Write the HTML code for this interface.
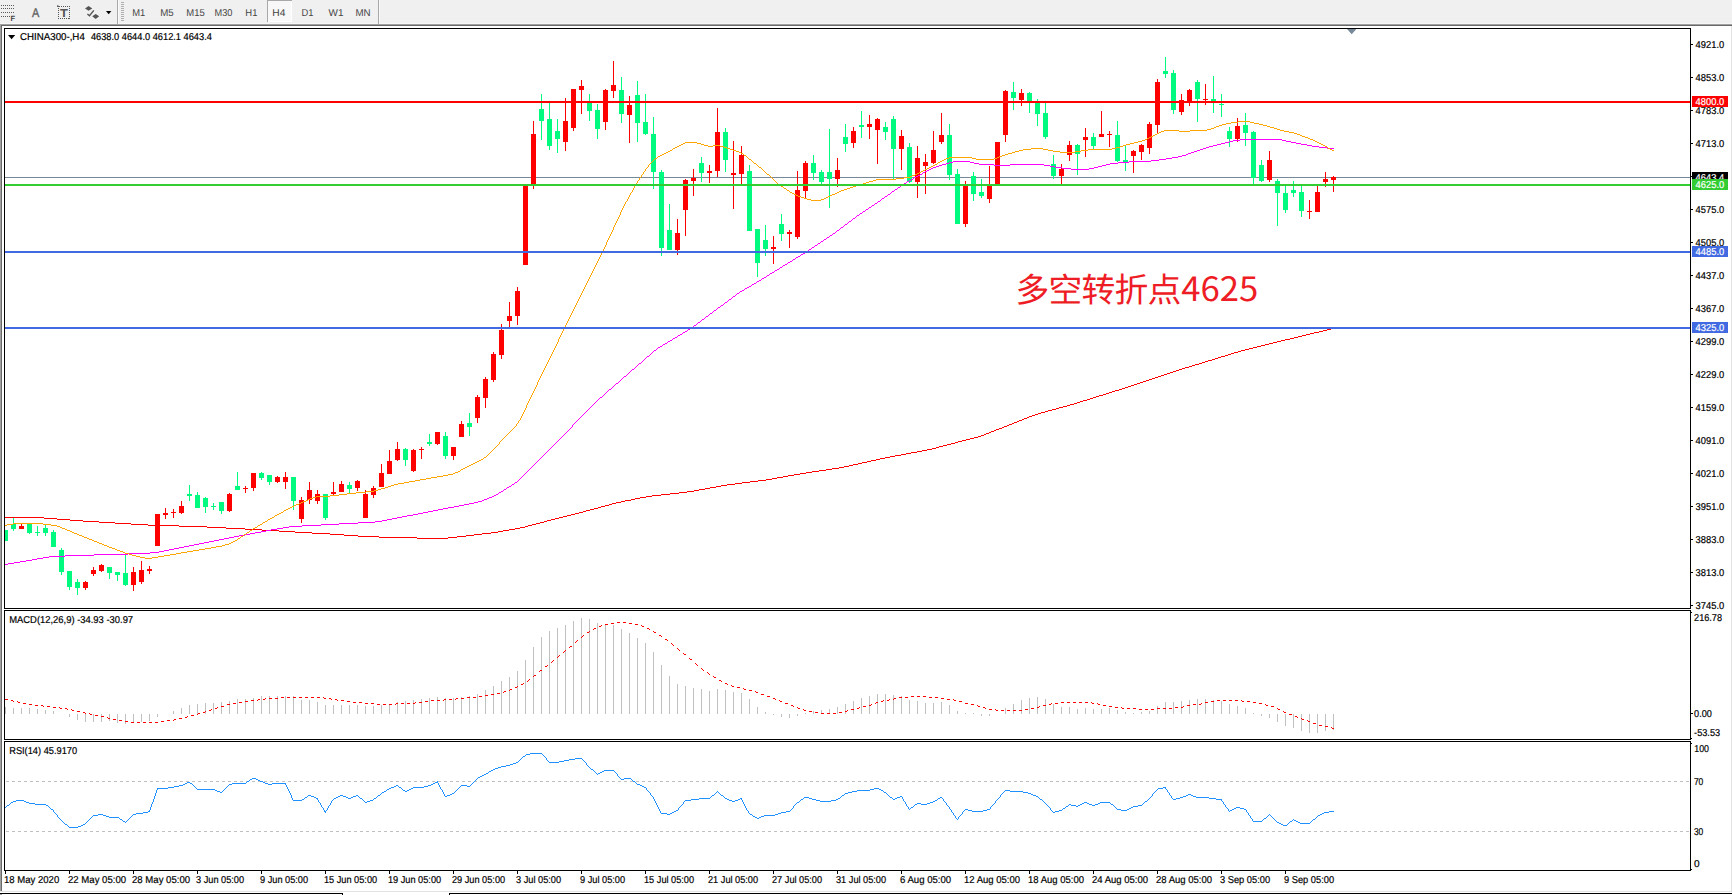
<!DOCTYPE html>
<html lang="zh"><head><meta charset="utf-8"><title>CHINA300-,H4</title>
<style>
html,body{margin:0;padding:0;background:#fff;overflow:hidden}
body{width:1732px;height:895px;position:relative;font-family:"Liberation Sans",sans-serif}
svg{position:absolute;left:0;top:0;display:block}
text{text-rendering:geometricPrecision}
.t{font-family:"Liberation Sans",sans-serif;font-size:10px;fill:#000;stroke:#000;stroke-width:.2px}
.tb{font-family:"Liberation Sans",sans-serif;font-size:10px;fill:#444}
.w{fill:#fff;stroke:#fff}
.note{font-family:"Liberation Sans","Noto Sans CJK SC",sans-serif;font-size:33px;fill:#ee1c25}
.num{font-family:"Noto Sans CJK SC",sans-serif}
</style></head><body>
<svg width="1732" height="895" viewBox="0 0 1732 895">
<g shape-rendering="crispEdges">
<rect x="0" y="0" width="1732" height="895" fill="#fff"/>
<rect x="0" y="0" width="1732" height="23" fill="#f0f0f0"/>
<rect x="0" y="23" width="1732" height="1" fill="#f6f6f6"/>
<rect x="0" y="24" width="1732" height="1" fill="#a0a0a0"/>
<rect x="1" y="25" width="1732" height="1" fill="#696969"/>
<rect x="0" y="24" width="1" height="867" fill="#a0a0a0"/>
<rect x="1" y="25" width="1" height="866" fill="#696969"/>
<rect x="1731" y="26" width="1" height="865" fill="#e3e3e3"/>
<rect x="0" y="891" width="1732" height="1" fill="#e3e3e3"/>
<rect x="0" y="892" width="1732" height="1" fill="#ffffff"/>
<rect x="0" y="893" width="343" height="1" fill="#000"/>
<rect x="342" y="893" width="1" height="2" fill="#000"/>
<rect x="449" y="893" width="1283" height="1" fill="#000"/>
<rect x="449" y="893" width="1" height="2" fill="#000"/>
<rect x="0" y="894" width="2" height="1" fill="#a0a0a0"/>
</g>
<g id="toolbar">
<g shape-rendering="crispEdges" fill="#5a5a5a">
<rect x="1" y="5" width="1" height="1"/>
<rect x="3" y="5" width="1" height="1"/>
<rect x="5" y="5" width="1" height="1"/>
<rect x="7" y="5" width="1" height="1"/>
<rect x="9" y="5" width="1" height="1"/>
<rect x="11" y="5" width="1" height="1"/>
<rect x="13" y="5" width="1" height="1"/>
<rect x="1" y="8" width="1" height="1"/>
<rect x="3" y="8" width="1" height="1"/>
<rect x="5" y="8" width="1" height="1"/>
<rect x="7" y="8" width="1" height="1"/>
<rect x="9" y="8" width="1" height="1"/>
<rect x="11" y="8" width="1" height="1"/>
<rect x="13" y="8" width="1" height="1"/>
<rect x="1" y="12" width="1" height="1"/>
<rect x="3" y="12" width="1" height="1"/>
<rect x="5" y="12" width="1" height="1"/>
<rect x="7" y="12" width="1" height="1"/>
<rect x="9" y="12" width="1" height="1"/>
<rect x="11" y="12" width="1" height="1"/>
<rect x="13" y="12" width="1" height="1"/>
<rect x="1" y="16" width="1" height="1"/>
<rect x="3" y="16" width="1" height="1"/>
<rect x="5" y="16" width="1" height="1"/>
<rect x="7" y="16" width="1" height="1"/>
<rect x="9" y="16" width="1" height="1"/>
</g>
<text x="10.5" y="21" style="font:bold 7.5px 'Liberation Sans',sans-serif" fill="#444">F</text>
<text x="32" y="17" style="font:12.6px 'Liberation Sans',sans-serif" fill="#666" stroke="#666" stroke-width=".4" textLength="7.3" lengthAdjust="spacingAndGlyphs">A</text>
<rect x="58.5" y="6.5" width="11" height="12" fill="none" stroke="#555" stroke-width="1" stroke-dasharray="1 1" shape-rendering="crispEdges"/>
<text x="60.1" y="17" style="font:bold 11.5px 'Liberation Sans',sans-serif" fill="#555" textLength="7.9" lengthAdjust="spacingAndGlyphs">T</text>
<path d="M57 5.2h1.4v.9h1.2v.9h-2.6z" fill="#666"/>
<path d="M88.6 5.9 L92.3 8.6 L88.6 10.8 L85 8.6 Z M95.7 14 L99.2 16.3 L95.7 19.1 L92.2 16.3 Z" fill="#555"/>
<path d="M87.4 14 L89.5 15.7 L93.8 10.4" fill="none" stroke="#555" stroke-width="1.4"/>
<path d="M106 11 L111.4 11 L108.7 14.2 Z" fill="#000"/>
<g shape-rendering="crispEdges">
<rect x="117" y="0" width="1" height="24" fill="#a8a8a8"/>
<rect x="118" y="0" width="1" height="24" fill="#fafafa"/>
<rect x="121" y="2" width="3" height="1" fill="#b0b0b0"/>
<rect x="121" y="4" width="3" height="1" fill="#b0b0b0"/>
<rect x="121" y="6" width="3" height="1" fill="#b0b0b0"/>
<rect x="121" y="8" width="3" height="1" fill="#b0b0b0"/>
<rect x="121" y="10" width="3" height="1" fill="#b0b0b0"/>
<rect x="121" y="12" width="3" height="1" fill="#b0b0b0"/>
<rect x="121" y="14" width="3" height="1" fill="#b0b0b0"/>
<rect x="121" y="16" width="3" height="1" fill="#b0b0b0"/>
<rect x="121" y="18" width="3" height="1" fill="#b0b0b0"/>
<rect x="121" y="20" width="3" height="1" fill="#b0b0b0"/>
<rect x="267" y="0" width="25" height="22" fill="#f8f8f8"/>
<rect x="267" y="0" width="1" height="22" fill="#a8a8a8"/>
<rect x="267" y="0" width="25" height="1" fill="#a8a8a8"/>
<rect x="291" y="1" width="1" height="21" fill="#ffffff"/>
<rect x="268" y="21" width="24" height="1" fill="#ffffff"/>
<rect x="378" y="0" width="1" height="24" fill="#a8a8a8"/>
<rect x="379" y="0" width="1" height="24" fill="#fafafa"/>
</g>
<text class="tb" transform="translate(132.3 16) scale(1 1)" textLength="13.0" lengthAdjust="spacingAndGlyphs">M1</text>
<text class="tb" transform="translate(160.2 16) scale(1 1)" textLength="13.5" lengthAdjust="spacingAndGlyphs">M5</text>
<text class="tb" transform="translate(186.3 16) scale(1 1)" textLength="18.4" lengthAdjust="spacingAndGlyphs">M15</text>
<text class="tb" transform="translate(214.5 16) scale(1 1)" textLength="17.9" lengthAdjust="spacingAndGlyphs">M30</text>
<text class="tb" transform="translate(245.3 16) scale(1 1)" textLength="12.1" lengthAdjust="spacingAndGlyphs">H1</text>
<text class="tb" transform="translate(272.3 16) scale(1 1)" textLength="13.1" lengthAdjust="spacingAndGlyphs">H4</text>
<text class="tb" transform="translate(301.5 16) scale(1 1)" textLength="12.0" lengthAdjust="spacingAndGlyphs">D1</text>
<text class="tb" transform="translate(328.6 16) scale(1 1)" textLength="14.9" lengthAdjust="spacingAndGlyphs">W1</text>
<text class="tb" transform="translate(355.5 16) scale(1 1)" textLength="15.1" lengthAdjust="spacingAndGlyphs">MN</text>
</g>
<g shape-rendering="crispEdges" fill="#000">
<rect x="4" y="28" width="1687" height="1"/>
<rect x="4" y="608" width="1687" height="1"/>
<rect x="4" y="28" width="1" height="581"/>
<rect x="1690" y="28" width="1" height="581"/>
<rect x="4" y="610" width="1687" height="1"/>
<rect x="4" y="739" width="1687" height="1"/>
<rect x="4" y="610" width="1" height="130"/>
<rect x="1690" y="610" width="1" height="130"/>
<rect x="4" y="741" width="1687" height="1"/>
<rect x="4" y="870" width="1687" height="1"/>
<rect x="4" y="741" width="1" height="130"/>
<rect x="1690" y="741" width="1" height="130"/>
<rect x="1691" y="612" width="1" height="1"/>
<rect x="1691" y="738" width="1" height="1"/>
<rect x="1691" y="743" width="1" height="1"/>
</g>
<rect x="5" y="177" width="1685" height="1" fill="#778899" shape-rendering="crispEdges"/>
<g shape-rendering="crispEdges" id="candles">
<rect x="5" y="530" width="1" height="11" fill="#00fa80"/>
<rect x="5" y="530" width="3" height="11" fill="#00fa80"/>
<rect x="13" y="518" width="1" height="13" fill="#00fa80"/>
<rect x="11" y="524" width="5" height="5" fill="#00fa80"/>
<rect x="21" y="524" width="1" height="5" fill="#ff0000"/>
<rect x="19" y="526" width="5" height="3" fill="#ff0000"/>
<rect x="29" y="524" width="1" height="10" fill="#00fa80"/>
<rect x="27" y="524" width="5" height="9" fill="#00fa80"/>
<rect x="37" y="526" width="1" height="10" fill="#00fa80"/>
<rect x="35" y="532" width="5" height="1" fill="#00fa80"/>
<rect x="45" y="524" width="1" height="12" fill="#00fa80"/>
<rect x="43" y="528" width="5" height="5" fill="#00fa80"/>
<rect x="53" y="530" width="1" height="17" fill="#00fa80"/>
<rect x="51" y="532" width="5" height="15" fill="#00fa80"/>
<rect x="61" y="548" width="1" height="27" fill="#00fa80"/>
<rect x="59" y="550" width="5" height="22" fill="#00fa80"/>
<rect x="69" y="571" width="1" height="19" fill="#00fa80"/>
<rect x="67" y="571" width="5" height="16" fill="#00fa80"/>
<rect x="77" y="579" width="1" height="16" fill="#00fa80"/>
<rect x="75" y="582" width="5" height="6" fill="#00fa80"/>
<rect x="85" y="581" width="1" height="9" fill="#ff0000"/>
<rect x="83" y="582" width="5" height="6" fill="#ff0000"/>
<rect x="93" y="567" width="1" height="9" fill="#ff0000"/>
<rect x="91" y="570" width="5" height="4" fill="#ff0000"/>
<rect x="101" y="564" width="1" height="8" fill="#ff0000"/>
<rect x="99" y="565" width="5" height="6" fill="#ff0000"/>
<rect x="109" y="567" width="1" height="12" fill="#00fa80"/>
<rect x="107" y="567" width="5" height="6" fill="#00fa80"/>
<rect x="117" y="572" width="1" height="9" fill="#00fa80"/>
<rect x="115" y="572" width="5" height="3" fill="#00fa80"/>
<rect x="125" y="555" width="1" height="31" fill="#00fa80"/>
<rect x="123" y="573" width="5" height="12" fill="#00fa80"/>
<rect x="133" y="567" width="1" height="24" fill="#ff0000"/>
<rect x="131" y="572" width="5" height="13" fill="#ff0000"/>
<rect x="141" y="561" width="1" height="23" fill="#ff0000"/>
<rect x="139" y="570" width="5" height="12" fill="#ff0000"/>
<rect x="149" y="566" width="1" height="8" fill="#ff0000"/>
<rect x="147" y="569" width="5" height="2" fill="#ff0000"/>
<rect x="157" y="514" width="1" height="32" fill="#ff0000"/>
<rect x="155" y="514" width="5" height="32" fill="#ff0000"/>
<rect x="165" y="508" width="1" height="11" fill="#ff0000"/>
<rect x="163" y="513" width="5" height="2" fill="#ff0000"/>
<rect x="173" y="509" width="1" height="9" fill="#ff0000"/>
<rect x="171" y="512" width="5" height="1" fill="#ff0000"/>
<rect x="181" y="501" width="1" height="13" fill="#ff0000"/>
<rect x="179" y="506" width="5" height="7" fill="#ff0000"/>
<rect x="189" y="485" width="1" height="16" fill="#00fa80"/>
<rect x="187" y="494" width="5" height="2" fill="#00fa80"/>
<rect x="197" y="492" width="1" height="16" fill="#00fa80"/>
<rect x="195" y="495" width="5" height="13" fill="#00fa80"/>
<rect x="205" y="497" width="1" height="16" fill="#00fa80"/>
<rect x="203" y="498" width="5" height="9" fill="#00fa80"/>
<rect x="213" y="503" width="1" height="7" fill="#00fa80"/>
<rect x="211" y="506" width="5" height="1" fill="#00fa80"/>
<rect x="221" y="502" width="1" height="12" fill="#00fa80"/>
<rect x="219" y="502" width="5" height="9" fill="#00fa80"/>
<rect x="229" y="493" width="1" height="19" fill="#ff0000"/>
<rect x="227" y="494" width="5" height="17" fill="#ff0000"/>
<rect x="237" y="472" width="1" height="18" fill="#00fa80"/>
<rect x="235" y="486" width="5" height="4" fill="#00fa80"/>
<rect x="245" y="486" width="1" height="7" fill="#ff0000"/>
<rect x="243" y="488" width="5" height="1" fill="#ff0000"/>
<rect x="253" y="473" width="1" height="18" fill="#ff0000"/>
<rect x="251" y="473" width="5" height="15" fill="#ff0000"/>
<rect x="261" y="472" width="1" height="8" fill="#00fa80"/>
<rect x="259" y="473" width="5" height="5" fill="#00fa80"/>
<rect x="269" y="475" width="1" height="10" fill="#00fa80"/>
<rect x="267" y="475" width="5" height="7" fill="#00fa80"/>
<rect x="277" y="476" width="1" height="7" fill="#ff0000"/>
<rect x="275" y="477" width="5" height="5" fill="#ff0000"/>
<rect x="285" y="472" width="1" height="17" fill="#ff0000"/>
<rect x="283" y="477" width="5" height="5" fill="#ff0000"/>
<rect x="293" y="477" width="1" height="33" fill="#00fa80"/>
<rect x="291" y="477" width="5" height="24" fill="#00fa80"/>
<rect x="301" y="497" width="1" height="26" fill="#ff0000"/>
<rect x="299" y="500" width="5" height="19" fill="#ff0000"/>
<rect x="309" y="482" width="1" height="22" fill="#ff0000"/>
<rect x="307" y="490" width="5" height="10" fill="#ff0000"/>
<rect x="317" y="490" width="1" height="14" fill="#ff0000"/>
<rect x="315" y="494" width="5" height="7" fill="#ff0000"/>
<rect x="325" y="494" width="1" height="26" fill="#00fa80"/>
<rect x="323" y="494" width="5" height="24" fill="#00fa80"/>
<rect x="333" y="482" width="1" height="14" fill="#ff0000"/>
<rect x="331" y="492" width="5" height="2" fill="#ff0000"/>
<rect x="341" y="481" width="1" height="11" fill="#ff0000"/>
<rect x="339" y="484" width="5" height="8" fill="#ff0000"/>
<rect x="349" y="482" width="1" height="11" fill="#00fa80"/>
<rect x="347" y="485" width="5" height="4" fill="#00fa80"/>
<rect x="357" y="480" width="1" height="11" fill="#ff0000"/>
<rect x="355" y="481" width="5" height="7" fill="#ff0000"/>
<rect x="365" y="490" width="1" height="28" fill="#ff0000"/>
<rect x="363" y="494" width="5" height="24" fill="#ff0000"/>
<rect x="373" y="486" width="1" height="12" fill="#ff0000"/>
<rect x="371" y="488" width="5" height="7" fill="#ff0000"/>
<rect x="381" y="464" width="1" height="23" fill="#ff0000"/>
<rect x="379" y="473" width="5" height="14" fill="#ff0000"/>
<rect x="389" y="450" width="1" height="24" fill="#ff0000"/>
<rect x="387" y="461" width="5" height="13" fill="#ff0000"/>
<rect x="397" y="442" width="1" height="19" fill="#ff0000"/>
<rect x="395" y="449" width="5" height="11" fill="#ff0000"/>
<rect x="405" y="448" width="1" height="18" fill="#00fa80"/>
<rect x="403" y="449" width="5" height="11" fill="#00fa80"/>
<rect x="413" y="449" width="1" height="23" fill="#ff0000"/>
<rect x="411" y="450" width="5" height="21" fill="#ff0000"/>
<rect x="421" y="447" width="1" height="12" fill="#ff0000"/>
<rect x="419" y="449" width="5" height="1" fill="#ff0000"/>
<rect x="429" y="434" width="1" height="12" fill="#00fa80"/>
<rect x="427" y="442" width="5" height="2" fill="#00fa80"/>
<rect x="437" y="432" width="1" height="13" fill="#ff0000"/>
<rect x="435" y="432" width="5" height="12" fill="#ff0000"/>
<rect x="445" y="432" width="1" height="27" fill="#00fa80"/>
<rect x="443" y="436" width="5" height="20" fill="#00fa80"/>
<rect x="453" y="447" width="1" height="13" fill="#ff0000"/>
<rect x="451" y="447" width="5" height="9" fill="#ff0000"/>
<rect x="461" y="421" width="1" height="16" fill="#ff0000"/>
<rect x="459" y="424" width="5" height="13" fill="#ff0000"/>
<rect x="469" y="413" width="1" height="23" fill="#00fa80"/>
<rect x="467" y="423" width="5" height="4" fill="#00fa80"/>
<rect x="477" y="395" width="1" height="28" fill="#ff0000"/>
<rect x="475" y="397" width="5" height="21" fill="#ff0000"/>
<rect x="485" y="377" width="1" height="31" fill="#ff0000"/>
<rect x="483" y="379" width="5" height="19" fill="#ff0000"/>
<rect x="493" y="352" width="1" height="30" fill="#ff0000"/>
<rect x="491" y="354" width="5" height="26" fill="#ff0000"/>
<rect x="501" y="324" width="1" height="35" fill="#ff0000"/>
<rect x="499" y="330" width="5" height="25" fill="#ff0000"/>
<rect x="509" y="302" width="1" height="25" fill="#ff0000"/>
<rect x="507" y="316" width="5" height="5" fill="#ff0000"/>
<rect x="517" y="287" width="1" height="38" fill="#ff0000"/>
<rect x="515" y="291" width="5" height="25" fill="#ff0000"/>
<rect x="525" y="186" width="1" height="79" fill="#ff0000"/>
<rect x="523" y="186" width="5" height="79" fill="#ff0000"/>
<rect x="533" y="121" width="1" height="68" fill="#ff0000"/>
<rect x="531" y="134" width="5" height="50" fill="#ff0000"/>
<rect x="541" y="94" width="1" height="46" fill="#00fa80"/>
<rect x="539" y="109" width="5" height="12" fill="#00fa80"/>
<rect x="549" y="103" width="1" height="47" fill="#00fa80"/>
<rect x="547" y="119" width="5" height="27" fill="#00fa80"/>
<rect x="557" y="119" width="1" height="34" fill="#00fa80"/>
<rect x="555" y="131" width="5" height="8" fill="#00fa80"/>
<rect x="565" y="98" width="1" height="53" fill="#ff0000"/>
<rect x="563" y="121" width="5" height="21" fill="#ff0000"/>
<rect x="573" y="89" width="1" height="42" fill="#ff0000"/>
<rect x="571" y="89" width="5" height="39" fill="#ff0000"/>
<rect x="581" y="80" width="1" height="34" fill="#ff0000"/>
<rect x="579" y="86" width="5" height="4" fill="#ff0000"/>
<rect x="589" y="94" width="1" height="27" fill="#00fa80"/>
<rect x="587" y="103" width="5" height="8" fill="#00fa80"/>
<rect x="597" y="104" width="1" height="35" fill="#00fa80"/>
<rect x="595" y="110" width="5" height="19" fill="#00fa80"/>
<rect x="605" y="89" width="1" height="41" fill="#ff0000"/>
<rect x="603" y="90" width="5" height="32" fill="#ff0000"/>
<rect x="613" y="61" width="1" height="37" fill="#ff0000"/>
<rect x="611" y="85" width="5" height="6" fill="#ff0000"/>
<rect x="621" y="77" width="1" height="46" fill="#00fa80"/>
<rect x="619" y="90" width="5" height="24" fill="#00fa80"/>
<rect x="629" y="96" width="1" height="47" fill="#ff0000"/>
<rect x="627" y="105" width="5" height="10" fill="#ff0000"/>
<rect x="637" y="81" width="1" height="61" fill="#00fa80"/>
<rect x="635" y="95" width="5" height="28" fill="#00fa80"/>
<rect x="645" y="94" width="1" height="41" fill="#00fa80"/>
<rect x="643" y="122" width="5" height="12" fill="#00fa80"/>
<rect x="653" y="117" width="1" height="72" fill="#00fa80"/>
<rect x="651" y="134" width="5" height="38" fill="#00fa80"/>
<rect x="661" y="170" width="1" height="86" fill="#00fa80"/>
<rect x="659" y="172" width="5" height="76" fill="#00fa80"/>
<rect x="669" y="204" width="1" height="46" fill="#00fa80"/>
<rect x="667" y="230" width="5" height="20" fill="#00fa80"/>
<rect x="677" y="219" width="1" height="36" fill="#ff0000"/>
<rect x="675" y="233" width="5" height="17" fill="#ff0000"/>
<rect x="685" y="179" width="1" height="57" fill="#ff0000"/>
<rect x="683" y="180" width="5" height="30" fill="#ff0000"/>
<rect x="693" y="169" width="1" height="27" fill="#ff0000"/>
<rect x="691" y="178" width="5" height="3" fill="#ff0000"/>
<rect x="701" y="157" width="1" height="25" fill="#00fa80"/>
<rect x="699" y="163" width="5" height="10" fill="#00fa80"/>
<rect x="709" y="165" width="1" height="18" fill="#ff0000"/>
<rect x="707" y="171" width="5" height="2" fill="#ff0000"/>
<rect x="717" y="108" width="1" height="69" fill="#ff0000"/>
<rect x="715" y="132" width="5" height="39" fill="#ff0000"/>
<rect x="725" y="128" width="1" height="44" fill="#00fa80"/>
<rect x="723" y="132" width="5" height="28" fill="#00fa80"/>
<rect x="733" y="141" width="1" height="68" fill="#ff0000"/>
<rect x="731" y="173" width="5" height="2" fill="#ff0000"/>
<rect x="741" y="146" width="1" height="38" fill="#ff0000"/>
<rect x="739" y="155" width="5" height="19" fill="#ff0000"/>
<rect x="749" y="165" width="1" height="66" fill="#00fa80"/>
<rect x="747" y="171" width="5" height="60" fill="#00fa80"/>
<rect x="757" y="229" width="1" height="48" fill="#00fa80"/>
<rect x="755" y="229" width="5" height="34" fill="#00fa80"/>
<rect x="765" y="225" width="1" height="31" fill="#00fa80"/>
<rect x="763" y="240" width="5" height="9" fill="#00fa80"/>
<rect x="773" y="236" width="1" height="28" fill="#ff0000"/>
<rect x="771" y="247" width="5" height="2" fill="#ff0000"/>
<rect x="781" y="214" width="1" height="27" fill="#00fa80"/>
<rect x="779" y="224" width="5" height="10" fill="#00fa80"/>
<rect x="789" y="230" width="1" height="18" fill="#ff0000"/>
<rect x="787" y="232" width="5" height="2" fill="#ff0000"/>
<rect x="797" y="171" width="1" height="68" fill="#ff0000"/>
<rect x="795" y="190" width="5" height="47" fill="#ff0000"/>
<rect x="805" y="161" width="1" height="37" fill="#ff0000"/>
<rect x="803" y="163" width="5" height="28" fill="#ff0000"/>
<rect x="813" y="155" width="1" height="25" fill="#00fa80"/>
<rect x="811" y="163" width="5" height="10" fill="#00fa80"/>
<rect x="821" y="170" width="1" height="14" fill="#00fa80"/>
<rect x="819" y="172" width="5" height="10" fill="#00fa80"/>
<rect x="829" y="129" width="1" height="79" fill="#00fa80"/>
<rect x="827" y="172" width="5" height="7" fill="#00fa80"/>
<rect x="837" y="158" width="1" height="29" fill="#ff0000"/>
<rect x="835" y="170" width="5" height="9" fill="#ff0000"/>
<rect x="845" y="124" width="1" height="28" fill="#00fa80"/>
<rect x="843" y="137" width="5" height="7" fill="#00fa80"/>
<rect x="853" y="127" width="1" height="21" fill="#ff0000"/>
<rect x="851" y="131" width="5" height="12" fill="#ff0000"/>
<rect x="861" y="111" width="1" height="27" fill="#00fa80"/>
<rect x="859" y="125" width="5" height="2" fill="#00fa80"/>
<rect x="869" y="115" width="1" height="24" fill="#ff0000"/>
<rect x="867" y="124" width="5" height="3" fill="#ff0000"/>
<rect x="877" y="118" width="1" height="46" fill="#ff0000"/>
<rect x="875" y="119" width="5" height="11" fill="#ff0000"/>
<rect x="885" y="122" width="1" height="18" fill="#00fa80"/>
<rect x="883" y="127" width="5" height="5" fill="#00fa80"/>
<rect x="893" y="116" width="1" height="63" fill="#00fa80"/>
<rect x="891" y="119" width="5" height="30" fill="#00fa80"/>
<rect x="901" y="130" width="1" height="40" fill="#ff0000"/>
<rect x="899" y="136" width="5" height="13" fill="#ff0000"/>
<rect x="909" y="143" width="1" height="40" fill="#00fa80"/>
<rect x="907" y="147" width="5" height="35" fill="#00fa80"/>
<rect x="917" y="146" width="1" height="52" fill="#ff0000"/>
<rect x="915" y="158" width="5" height="24" fill="#ff0000"/>
<rect x="925" y="154" width="1" height="40" fill="#ff0000"/>
<rect x="923" y="162" width="5" height="4" fill="#ff0000"/>
<rect x="933" y="131" width="1" height="33" fill="#ff0000"/>
<rect x="931" y="150" width="5" height="13" fill="#ff0000"/>
<rect x="941" y="113" width="1" height="31" fill="#ff0000"/>
<rect x="939" y="135" width="5" height="7" fill="#ff0000"/>
<rect x="949" y="124" width="1" height="56" fill="#00fa80"/>
<rect x="947" y="135" width="5" height="40" fill="#00fa80"/>
<rect x="957" y="169" width="1" height="55" fill="#00fa80"/>
<rect x="955" y="174" width="5" height="50" fill="#00fa80"/>
<rect x="965" y="181" width="1" height="46" fill="#ff0000"/>
<rect x="963" y="186" width="5" height="38" fill="#ff0000"/>
<rect x="973" y="172" width="1" height="29" fill="#00fa80"/>
<rect x="971" y="176" width="5" height="18" fill="#00fa80"/>
<rect x="981" y="179" width="1" height="19" fill="#00fa80"/>
<rect x="979" y="192" width="5" height="4" fill="#00fa80"/>
<rect x="989" y="166" width="1" height="37" fill="#ff0000"/>
<rect x="987" y="186" width="5" height="13" fill="#ff0000"/>
<rect x="997" y="142" width="1" height="42" fill="#ff0000"/>
<rect x="995" y="142" width="5" height="42" fill="#ff0000"/>
<rect x="1005" y="90" width="1" height="52" fill="#ff0000"/>
<rect x="1003" y="91" width="5" height="44" fill="#ff0000"/>
<rect x="1013" y="82" width="1" height="28" fill="#00fa80"/>
<rect x="1011" y="92" width="5" height="6" fill="#00fa80"/>
<rect x="1021" y="89" width="1" height="17" fill="#ff0000"/>
<rect x="1019" y="93" width="5" height="7" fill="#ff0000"/>
<rect x="1029" y="92" width="1" height="21" fill="#00fa80"/>
<rect x="1027" y="93" width="5" height="8" fill="#00fa80"/>
<rect x="1037" y="99" width="1" height="27" fill="#00fa80"/>
<rect x="1035" y="103" width="5" height="11" fill="#00fa80"/>
<rect x="1045" y="103" width="1" height="36" fill="#00fa80"/>
<rect x="1043" y="113" width="5" height="24" fill="#00fa80"/>
<rect x="1053" y="155" width="1" height="24" fill="#00fa80"/>
<rect x="1051" y="164" width="5" height="12" fill="#00fa80"/>
<rect x="1061" y="164" width="1" height="20" fill="#ff0000"/>
<rect x="1059" y="169" width="5" height="7" fill="#ff0000"/>
<rect x="1069" y="141" width="1" height="20" fill="#ff0000"/>
<rect x="1067" y="145" width="5" height="10" fill="#ff0000"/>
<rect x="1077" y="144" width="1" height="31" fill="#00fa80"/>
<rect x="1075" y="145" width="5" height="9" fill="#00fa80"/>
<rect x="1085" y="128" width="1" height="29" fill="#ff0000"/>
<rect x="1083" y="137" width="5" height="3" fill="#ff0000"/>
<rect x="1093" y="133" width="1" height="16" fill="#00fa80"/>
<rect x="1091" y="137" width="5" height="9" fill="#00fa80"/>
<rect x="1101" y="111" width="1" height="26" fill="#ff0000"/>
<rect x="1099" y="134" width="5" height="3" fill="#ff0000"/>
<rect x="1109" y="131" width="1" height="16" fill="#ff0000"/>
<rect x="1107" y="134" width="5" height="1" fill="#ff0000"/>
<rect x="1117" y="121" width="1" height="41" fill="#00fa80"/>
<rect x="1115" y="135" width="5" height="26" fill="#00fa80"/>
<rect x="1125" y="146" width="1" height="25" fill="#00fa80"/>
<rect x="1123" y="160" width="5" height="2" fill="#00fa80"/>
<rect x="1133" y="150" width="1" height="23" fill="#ff0000"/>
<rect x="1131" y="151" width="5" height="5" fill="#ff0000"/>
<rect x="1141" y="144" width="1" height="16" fill="#ff0000"/>
<rect x="1139" y="145" width="5" height="7" fill="#ff0000"/>
<rect x="1149" y="122" width="1" height="32" fill="#ff0000"/>
<rect x="1147" y="124" width="5" height="24" fill="#ff0000"/>
<rect x="1157" y="79" width="1" height="54" fill="#ff0000"/>
<rect x="1155" y="82" width="5" height="43" fill="#ff0000"/>
<rect x="1165" y="57" width="1" height="21" fill="#00fa80"/>
<rect x="1163" y="71" width="5" height="3" fill="#00fa80"/>
<rect x="1173" y="70" width="1" height="44" fill="#00fa80"/>
<rect x="1171" y="73" width="5" height="37" fill="#00fa80"/>
<rect x="1181" y="94" width="1" height="21" fill="#ff0000"/>
<rect x="1179" y="100" width="5" height="12" fill="#ff0000"/>
<rect x="1189" y="89" width="1" height="17" fill="#ff0000"/>
<rect x="1187" y="90" width="5" height="12" fill="#ff0000"/>
<rect x="1197" y="80" width="1" height="42" fill="#00fa80"/>
<rect x="1195" y="82" width="5" height="17" fill="#00fa80"/>
<rect x="1205" y="84" width="1" height="21" fill="#ff0000"/>
<rect x="1203" y="99" width="5" height="1" fill="#ff0000"/>
<rect x="1213" y="76" width="1" height="37" fill="#00fa80"/>
<rect x="1211" y="99" width="5" height="2" fill="#00fa80"/>
<rect x="1221" y="94" width="1" height="23" fill="#00fa80"/>
<rect x="1219" y="104" width="5" height="1" fill="#00fa80"/>
<rect x="1229" y="127" width="1" height="20" fill="#00fa80"/>
<rect x="1227" y="131" width="5" height="8" fill="#00fa80"/>
<rect x="1237" y="118" width="1" height="24" fill="#ff0000"/>
<rect x="1235" y="126" width="5" height="13" fill="#ff0000"/>
<rect x="1245" y="113" width="1" height="33" fill="#00fa80"/>
<rect x="1243" y="125" width="5" height="8" fill="#00fa80"/>
<rect x="1253" y="131" width="1" height="53" fill="#00fa80"/>
<rect x="1251" y="132" width="5" height="46" fill="#00fa80"/>
<rect x="1261" y="160" width="1" height="22" fill="#00fa80"/>
<rect x="1259" y="165" width="5" height="16" fill="#00fa80"/>
<rect x="1269" y="151" width="1" height="31" fill="#ff0000"/>
<rect x="1267" y="160" width="5" height="20" fill="#ff0000"/>
<rect x="1277" y="179" width="1" height="47" fill="#00fa80"/>
<rect x="1275" y="181" width="5" height="12" fill="#00fa80"/>
<rect x="1285" y="186" width="1" height="27" fill="#00fa80"/>
<rect x="1283" y="193" width="5" height="17" fill="#00fa80"/>
<rect x="1293" y="181" width="1" height="16" fill="#00fa80"/>
<rect x="1291" y="190" width="5" height="3" fill="#00fa80"/>
<rect x="1301" y="186" width="1" height="31" fill="#00fa80"/>
<rect x="1299" y="192" width="5" height="19" fill="#00fa80"/>
<rect x="1309" y="200" width="1" height="19" fill="#ff0000"/>
<rect x="1307" y="211" width="5" height="1" fill="#ff0000"/>
<rect x="1317" y="186" width="1" height="26" fill="#ff0000"/>
<rect x="1315" y="192" width="5" height="20" fill="#ff0000"/>
<rect x="1325" y="172" width="1" height="15" fill="#ff0000"/>
<rect x="1323" y="179" width="5" height="3" fill="#ff0000"/>
<rect x="1333" y="176" width="1" height="16" fill="#ff0000"/>
<rect x="1331" y="177" width="5" height="3" fill="#ff0000"/>
</g>
<path d="M5 517h39v1h-39zM44 518h13v1h-13zM57 519h13v1h-13zM70 520h13v1h-13zM83 521h16v1h-16zM99 522h16v1h-16zM115 523h16v1h-16zM131 524h17v1h-17zM148 525h31v1h-31zM179 526h28v1h-28zM207 527h19v1h-19zM226 528h19v1h-19zM245 529h17v1h-17zM262 530h17v1h-17zM279 531h16v1h-16zM295 532h17v1h-17zM312 533h18v1h-18zM330 534h14v1h-14zM344 535h14v1h-14zM358 536h21v1h-21zM379 537h38v1h-38zM417 538h31v1h-31zM448 537h9v1h-9zM457 536h9v1h-9zM466 535h8v1h-8zM474 534h8v1h-8zM482 533h9v1h-9zM491 532h7v1h-7zM498 531h5v1h-5zM503 530h6v1h-6zM509 529h6v1h-6zM515 528h5v1h-5zM520 527h5v1h-5zM525 526h3v1h-3zM528 525h4v1h-4zM532 524h4v1h-4zM536 523h4v1h-4zM540 522h4v1h-4zM544 521h3v1h-3zM547 520h4v1h-4zM551 519h4v1h-4zM555 518h4v1h-4zM559 517h4v1h-4zM563 516h4v1h-4zM567 515h4v1h-4zM571 514h4v1h-4zM575 513h4v1h-4zM579 512h4v1h-4zM583 511h3v1h-3zM586 510h4v1h-4zM590 509h4v1h-4zM594 508h4v1h-4zM598 507h3v1h-3zM601 506h4v1h-4zM605 505h4v1h-4zM609 504h3v1h-3zM612 503h4v1h-4zM616 502h5v1h-5zM621 501h4v1h-4zM625 500h6v1h-6zM631 499h4v1h-4zM635 498h5v1h-5zM640 497h6v1h-6zM646 496h6v1h-6zM652 495h9v1h-9zM661 494h9v1h-9zM670 493h9v1h-9zM679 492h8v1h-8zM687 491h7v1h-7zM694 490h5v1h-5zM699 489h6v1h-6zM705 488h5v1h-5zM710 487h6v1h-6zM716 486h5v1h-5zM721 485h6v1h-6zM727 484h8v1h-8zM735 483h7v1h-7zM742 482h8v1h-8zM750 481h8v1h-8zM758 480h8v1h-8zM766 479h6v1h-6zM772 478h5v1h-5zM777 477h6v1h-6zM783 476h5v1h-5zM788 475h6v1h-6zM794 474h6v1h-6zM800 473h6v1h-6zM806 472h6v1h-6zM812 471h7v1h-7zM819 470h7v1h-7zM826 469h6v1h-6zM832 468h7v1h-7zM839 467h5v1h-5zM844 466h5v1h-5zM849 465h4v1h-4zM853 464h5v1h-5zM858 463h4v1h-4zM862 462h5v1h-5zM867 461h4v1h-4zM871 460h5v1h-5zM876 459h4v1h-4zM880 458h5v1h-5zM885 457h5v1h-5zM890 456h5v1h-5zM895 455h6v1h-6zM901 454h5v1h-5zM906 453h5v1h-5zM911 452h6v1h-6zM917 451h5v1h-5zM922 450h5v1h-5zM927 449h5v1h-5zM932 448h4v1h-4zM936 447h3v1h-3zM939 446h4v1h-4zM943 445h4v1h-4zM947 444h4v1h-4zM951 443h4v1h-4zM955 442h3v1h-3zM958 441h4v1h-4zM962 440h4v1h-4zM966 439h4v1h-4zM970 438h4v1h-4zM974 437h4v1h-4zM978 436h3v1h-3zM981 435h3v1h-3zM984 434h2v1h-2zM986 433h3v1h-3zM989 432h2v1h-2zM991 431h3v1h-3zM994 430h2v1h-2zM996 429h3v1h-3zM999 428h3v1h-3zM1002 427h2v1h-2zM1004 426h3v1h-3zM1007 425h2v1h-2zM1009 424h3v1h-3zM1012 423h2v1h-2zM1014 422h3v1h-3zM1017 421h2v1h-2zM1019 420h3v1h-3zM1022 419h2v1h-2zM1024 418h3v1h-3zM1027 417h2v1h-2zM1029 416h3v1h-3zM1032 415h3v1h-3zM1035 414h3v1h-3zM1038 413h3v1h-3zM1041 412h4v1h-4zM1045 411h3v1h-3zM1048 410h4v1h-4zM1052 409h4v1h-4zM1056 408h3v1h-3zM1059 407h4v1h-4zM1063 406h4v1h-4zM1067 405h3v1h-3zM1070 404h4v1h-4zM1074 403h3v1h-3zM1077 402h3v1h-3zM1080 401h3v1h-3zM1083 400h4v1h-4zM1087 399h3v1h-3zM1090 398h3v1h-3zM1093 397h3v1h-3zM1096 396h3v1h-3zM1099 395h4v1h-4zM1103 394h3v1h-3zM1106 393h3v1h-3zM1109 392h3v1h-3zM1112 391h3v1h-3zM1115 390h4v1h-4zM1119 389h3v1h-3zM1122 388h3v1h-3zM1125 387h3v1h-3zM1128 386h3v1h-3zM1131 385h3v1h-3zM1134 384h3v1h-3zM1137 383h3v1h-3zM1140 382h3v1h-3zM1143 381h3v1h-3zM1146 380h3v1h-3zM1149 379h3v1h-3zM1152 378h3v1h-3zM1155 377h3v1h-3zM1158 376h3v1h-3zM1161 375h3v1h-3zM1164 374h3v1h-3zM1167 373h3v1h-3zM1170 372h3v1h-3zM1173 371h3v1h-3zM1176 370h3v1h-3zM1179 369h3v1h-3zM1182 368h3v1h-3zM1185 367h4v1h-4zM1189 366h3v1h-3zM1192 365h3v1h-3zM1195 364h4v1h-4zM1199 363h3v1h-3zM1202 362h3v1h-3zM1205 361h3v1h-3zM1208 360h4v1h-4zM1212 359h3v1h-3zM1215 358h3v1h-3zM1218 357h3v1h-3zM1221 356h4v1h-4zM1225 355h3v1h-3zM1228 354h3v1h-3zM1231 353h3v1h-3zM1234 352h4v1h-4zM1238 351h3v1h-3zM1241 350h4v1h-4zM1245 349h4v1h-4zM1249 348h4v1h-4zM1253 347h4v1h-4zM1257 346h4v1h-4zM1261 345h4v1h-4zM1265 344h4v1h-4zM1269 343h4v1h-4zM1273 342h4v1h-4zM1277 341h4v1h-4zM1281 340h4v1h-4zM1285 339h5v1h-5zM1290 338h4v1h-4zM1294 337h4v1h-4zM1298 336h4v1h-4zM1302 335h4v1h-4zM1306 334h4v1h-4zM1310 333h4v1h-4zM1314 332h5v1h-5zM1319 331h4v1h-4zM1323 330h4v1h-4zM1327 329h4v1h-4zM1331 328h3v1h-3z" fill="#ff0000" shape-rendering="crispEdges"/>
<path d="M5 564h3v1h-3zM8 563h6v1h-6zM14 562h6v1h-6zM20 561h6v1h-6zM26 560h6v1h-6zM32 559h5v1h-5zM37 558h6v1h-6zM43 557h6v1h-6zM49 556h16v1h-16zM65 555h29v1h-29zM94 554h34v1h-34zM128 553h22v1h-22zM150 552h9v1h-9zM159 551h5v1h-5zM164 550h5v1h-5zM169 549h5v1h-5zM174 548h5v1h-5zM179 547h5v1h-5zM184 546h5v1h-5zM189 545h5v1h-5zM194 544h5v1h-5zM199 543h5v1h-5zM204 542h5v1h-5zM209 541h5v1h-5zM214 540h5v1h-5zM219 539h5v1h-5zM224 538h5v1h-5zM229 537h5v1h-5zM234 536h5v1h-5zM239 535h6v1h-6zM245 534h5v1h-5zM250 533h5v1h-5zM255 532h6v1h-6zM261 531h5v1h-5zM266 530h5v1h-5zM271 529h6v1h-6zM277 528h6v1h-6zM283 527h6v1h-6zM289 526h13v1h-13zM302 525h19v1h-19zM321 524h18v1h-18zM339 523h19v1h-19zM358 522h17v1h-17zM375 521h7v1h-7zM382 520h5v1h-5zM387 519h5v1h-5zM392 518h5v1h-5zM397 517h5v1h-5zM402 516h5v1h-5zM407 515h6v1h-6zM413 514h5v1h-5zM418 513h5v1h-5zM423 512h5v1h-5zM428 511h5v1h-5zM433 510h5v1h-5zM438 509h5v1h-5zM443 508h5v1h-5zM448 507h6v1h-6zM454 506h5v1h-5zM459 505h5v1h-5zM464 504h5v1h-5zM469 503h5v1h-5zM474 502h4v1h-4zM478 501h4v1h-4zM482 500h2v1h-2zM484 499h3v1h-3zM487 498h2v1h-2zM489 497h3v1h-3zM492 496h2v1h-2zM494 495h2v1h-2zM496 494h2v1h-2zM498 493h1v1h-1zM499 492h2v1h-2zM501 491h2v1h-2zM503 490h1v1h-1zM504 489h2v1h-2zM506 488h1v1h-1zM507 487h2v1h-2zM509 486h2v1h-2zM511 485h1v1h-1zM512 484h2v1h-2zM514 483h1v1h-1zM515 482h2v1h-2zM517 481h1v1h-1zM518 480h1v1h-1zM519 479h1v1h-1zM520 478h1v1h-1zM521 477h1v1h-1zM522 476h1v1h-1zM523 475h1v1h-1zM524 474h1v1h-1zM525 473h1v1h-1zM526 472h1v1h-1zM527 471h1v1h-1zM528 470h1v1h-1zM529 469h1v1h-1zM530 468h1v1h-1zM531 467h1v1h-1zM532 466h1v1h-1zM533 465h1v1h-1zM534 464h1v1h-1zM535 463h1v1h-1zM536 462h1v1h-1zM537 461h1v1h-1zM538 460h1v1h-1zM539 459h1v1h-1zM540 458h1v1h-1zM541 457h1v1h-1zM542 456h1v1h-1zM543 455h1v1h-1zM544 454h1v1h-1zM545 453h1v1h-1zM546 452h1v1h-1zM547 451h1v1h-1zM548 450h1v1h-1zM549 449h1v1h-1zM550 448h1v1h-1zM551 447h1v1h-1zM552 446h1v1h-1zM553 445h1v1h-1zM554 444h1v1h-1zM555 443h1v1h-1zM556 442h1v1h-1zM557 441h1v1h-1zM558 440h1v1h-1zM559 439h1v1h-1zM560 438h1v1h-1zM561 437h1v1h-1zM562 436h1v1h-1zM563 435h1v1h-1zM564 434h1v1h-1zM565 433h1v1h-1zM566 432h1v1h-1zM567 431h1v1h-1zM568 430h1v1h-1zM569 429h1v1h-1zM570 428h1v1h-1zM571 427h1v1h-1zM572 425h1v2h-1zM573 424h1v1h-1zM574 423h1v1h-1zM575 422h1v1h-1zM576 421h1v1h-1zM577 420h1v1h-1zM578 419h1v1h-1zM579 418h1v1h-1zM580 417h1v1h-1zM581 416h1v1h-1zM582 415h1v1h-1zM583 414h1v1h-1zM584 413h1v1h-1zM585 412h1v1h-1zM586 411h1v1h-1zM587 410h1v1h-1zM588 409h1v1h-1zM589 408h1v1h-1zM590 407h1v1h-1zM591 406h1v1h-1zM592 405h1v1h-1zM593 404h1v1h-1zM594 403h1v1h-1zM595 402h1v1h-1zM596 401h1v1h-1zM597 400h1v1h-1zM598 399h1v1h-1zM599 398h1v1h-1zM600 397h2v1h-2zM602 396h1v1h-1zM603 395h1v1h-1zM604 394h1v1h-1zM605 393h1v1h-1zM606 392h1v1h-1zM607 391h1v1h-1zM608 390h1v1h-1zM609 389h2v1h-2zM611 388h1v1h-1zM612 387h1v1h-1zM613 386h1v1h-1zM614 385h1v1h-1zM615 384h1v1h-1zM616 383h2v1h-2zM618 382h1v1h-1zM619 381h1v1h-1zM620 380h1v1h-1zM621 379h1v1h-1zM622 378h1v1h-1zM623 377h1v1h-1zM624 376h2v1h-2zM626 375h1v1h-1zM627 374h1v1h-1zM628 373h1v1h-1zM629 372h1v1h-1zM630 371h1v1h-1zM631 370h1v1h-1zM632 369h2v1h-2zM634 368h1v1h-1zM635 367h1v1h-1zM636 366h1v1h-1zM637 365h1v1h-1zM638 364h1v1h-1zM639 363h2v1h-2zM641 362h1v1h-1zM642 361h1v1h-1zM643 360h1v1h-1zM644 359h1v1h-1zM645 358h1v1h-1zM646 357h1v1h-1zM647 356h2v1h-2zM649 355h1v1h-1zM650 354h1v1h-1zM651 353h1v1h-1zM652 352h1v1h-1zM653 351h1v1h-1zM654 350h2v1h-2zM656 349h1v1h-1zM657 348h1v1h-1zM658 347h2v1h-2zM660 346h2v1h-2zM662 345h1v1h-1zM663 344h2v1h-2zM665 343h2v1h-2zM667 342h1v1h-1zM668 341h2v1h-2zM670 340h2v1h-2zM672 339h1v1h-1zM673 338h2v1h-2zM675 337h2v1h-2zM677 336h1v1h-1zM678 335h2v1h-2zM680 334h2v1h-2zM682 333h1v1h-1zM683 332h2v1h-2zM685 331h2v1h-2zM687 330h1v1h-1zM688 329h2v1h-2zM690 328h1v1h-1zM691 327h2v1h-2zM693 326h1v1h-1zM694 325h2v1h-2zM696 324h1v1h-1zM697 323h1v1h-1zM698 322h2v1h-2zM700 321h1v1h-1zM701 320h1v1h-1zM702 319h2v1h-2zM704 318h1v1h-1zM705 317h1v1h-1zM706 316h2v1h-2zM708 315h1v1h-1zM709 314h1v1h-1zM710 313h2v1h-2zM712 312h1v1h-1zM713 311h1v1h-1zM714 310h2v1h-2zM716 309h1v1h-1zM717 308h1v1h-1zM718 307h2v1h-2zM720 306h1v1h-1zM721 305h2v1h-2zM723 304h1v1h-1zM724 303h1v1h-1zM725 302h2v1h-2zM727 301h1v1h-1zM728 300h1v1h-1zM729 299h2v1h-2zM731 298h1v1h-1zM732 297h1v1h-1zM733 296h2v1h-2zM735 295h1v1h-1zM736 294h1v1h-1zM737 293h2v1h-2zM739 292h1v1h-1zM740 291h2v1h-2zM742 290h2v1h-2zM744 289h1v1h-1zM745 288h2v1h-2zM747 287h2v1h-2zM749 286h2v1h-2zM751 285h1v1h-1zM752 284h2v1h-2zM754 283h2v1h-2zM756 282h1v1h-1zM757 281h2v1h-2zM759 280h2v1h-2zM761 279h1v1h-1zM762 278h2v1h-2zM764 277h2v1h-2zM766 276h1v1h-1zM767 275h2v1h-2zM769 274h1v1h-1zM770 273h2v1h-2zM772 272h2v1h-2zM774 271h1v1h-1zM775 270h2v1h-2zM777 269h2v1h-2zM779 268h1v1h-1zM780 267h2v1h-2zM782 266h1v1h-1zM783 265h2v1h-2zM785 264h2v1h-2zM787 263h1v1h-1zM788 262h2v1h-2zM790 261h2v1h-2zM792 260h1v1h-1zM793 259h2v1h-2zM795 258h1v1h-1zM796 257h2v1h-2zM798 256h2v1h-2zM800 255h1v1h-1zM801 254h2v1h-2zM803 253h2v1h-2zM805 252h1v1h-1zM806 251h2v1h-2zM808 250h1v1h-1zM809 249h2v1h-2zM811 248h1v1h-1zM812 247h2v1h-2zM814 246h1v1h-1zM815 245h2v1h-2zM817 244h1v1h-1zM818 243h2v1h-2zM820 242h1v1h-1zM821 241h2v1h-2zM823 240h1v1h-1zM824 239h2v1h-2zM826 238h1v1h-1zM827 237h2v1h-2zM829 236h1v1h-1zM830 235h2v1h-2zM832 234h1v1h-1zM833 233h2v1h-2zM835 232h1v1h-1zM836 231h1v1h-1zM837 230h2v1h-2zM839 229h1v1h-1zM840 228h1v1h-1zM841 227h2v1h-2zM843 226h1v1h-1zM844 225h1v1h-1zM845 224h2v1h-2zM847 223h1v1h-1zM848 222h1v1h-1zM849 221h2v1h-2zM851 220h1v1h-1zM852 219h1v1h-1zM853 218h2v1h-2zM855 217h1v1h-1zM856 216h1v1h-1zM857 215h2v1h-2zM859 214h1v1h-1zM860 213h2v1h-2zM862 212h1v1h-1zM863 211h2v1h-2zM865 210h1v1h-1zM866 209h2v1h-2zM868 208h1v1h-1zM869 207h2v1h-2zM871 206h1v1h-1zM872 205h2v1h-2zM874 204h1v1h-1zM875 203h2v1h-2zM877 202h1v1h-1zM878 201h2v1h-2zM880 200h1v1h-1zM881 199h1v1h-1zM882 198h2v1h-2zM884 197h1v1h-1zM885 196h2v1h-2zM887 195h1v1h-1zM888 194h2v1h-2zM890 193h1v1h-1zM891 192h1v1h-1zM892 191h2v1h-2zM894 190h1v1h-1zM895 189h2v1h-2zM897 188h1v1h-1zM898 187h2v1h-2zM900 186h1v1h-1zM901 185h2v1h-2zM903 184h1v1h-1zM904 183h2v1h-2zM906 182h1v1h-1zM907 181h2v1h-2zM909 180h2v1h-2zM911 179h2v1h-2zM913 178h1v1h-1zM914 177h2v1h-2zM916 176h2v1h-2zM918 175h2v1h-2zM920 174h2v1h-2zM922 173h1v1h-1zM923 172h2v1h-2zM925 171h2v1h-2zM927 170h2v1h-2zM929 169h2v1h-2zM931 168h2v1h-2zM933 167h3v1h-3zM936 166h3v1h-3zM939 165h3v1h-3zM942 164h4v1h-4zM946 163h3v1h-3zM949 162h4v1h-4zM953 161h17v1h-17zM970 162h4v1h-4zM974 163h5v1h-5zM979 164h15v1h-15zM994 165h16v1h-16zM1010 164h34v1h-34zM1044 165h6v1h-6zM1050 166h5v1h-5zM1055 167h7v1h-7zM1062 168h9v1h-9zM1071 169h18v1h-18zM1089 168h5v1h-5zM1094 167h4v1h-4zM1098 166h4v1h-4zM1102 165h4v1h-4zM1106 164h4v1h-4zM1110 163h8v1h-8zM1118 162h11v1h-11zM1129 161h22v1h-22zM1151 160h8v1h-8zM1159 159h7v1h-7zM1166 158h6v1h-6zM1172 157h6v1h-6zM1178 156h4v1h-4zM1182 155h4v1h-4zM1186 154h2v1h-2zM1188 153h3v1h-3zM1191 152h3v1h-3zM1194 151h3v1h-3zM1197 150h3v1h-3zM1200 149h3v1h-3zM1203 148h3v1h-3zM1206 147h3v1h-3zM1209 146h4v1h-4zM1213 145h4v1h-4zM1217 144h4v1h-4zM1221 143h4v1h-4zM1225 142h4v1h-4zM1229 141h4v1h-4zM1233 140h7v1h-7zM1240 139h42v1h-42zM1282 140h4v1h-4zM1286 141h5v1h-5zM1291 142h5v1h-5zM1296 143h5v1h-5zM1301 144h6v1h-6zM1307 145h5v1h-5zM1312 146h7v1h-7zM1319 147h8v1h-8zM1327 148h7v1h-7z" fill="#ff00ff" shape-rendering="crispEdges"/>
<path d="M5 525h2v1h-2zM7 524h6v1h-6zM13 523h30v1h-30zM43 524h8v1h-8zM51 525h6v1h-6zM57 526h3v1h-3zM60 527h2v1h-2zM62 528h3v1h-3zM65 529h2v1h-2zM67 530h3v1h-3zM70 531h2v1h-2zM72 532h2v1h-2zM74 533h3v1h-3zM77 534h2v1h-2zM79 535h3v1h-3zM82 536h2v1h-2zM84 537h3v1h-3zM87 538h2v1h-2zM89 539h3v1h-3zM92 540h2v1h-2zM94 541h3v1h-3zM97 542h2v1h-2zM99 543h3v1h-3zM102 544h2v1h-2zM104 545h3v1h-3zM107 546h2v1h-2zM109 547h3v1h-3zM112 548h3v1h-3zM115 549h2v1h-2zM117 550h3v1h-3zM120 551h3v1h-3zM123 552h2v1h-2zM125 553h4v1h-4zM129 554h3v1h-3zM132 555h4v1h-4zM136 556h4v1h-4zM140 557h5v1h-5zM145 558h7v1h-7zM152 557h6v1h-6zM158 556h6v1h-6zM164 555h6v1h-6zM170 554h6v1h-6zM176 553h5v1h-5zM181 552h6v1h-6zM187 551h6v1h-6zM193 550h6v1h-6zM199 549h6v1h-6zM205 548h6v1h-6zM211 547h5v1h-5zM216 546h6v1h-6zM222 545h3v1h-3zM225 544h4v1h-4zM229 543h2v1h-2zM231 542h2v1h-2zM233 541h2v1h-2zM235 540h2v1h-2zM237 539h1v1h-1zM238 538h2v1h-2zM240 537h1v1h-1zM241 536h2v1h-2zM243 535h1v1h-1zM244 534h2v1h-2zM246 533h1v1h-1zM247 532h2v1h-2zM249 531h1v1h-1zM250 530h2v1h-2zM252 529h1v1h-1zM253 528h2v1h-2zM255 527h2v1h-2zM257 526h1v1h-1zM258 525h2v1h-2zM260 524h2v1h-2zM262 523h1v1h-1zM263 522h2v1h-2zM265 521h2v1h-2zM267 520h1v1h-1zM268 519h2v1h-2zM270 518h2v1h-2zM272 517h2v1h-2zM274 516h1v1h-1zM275 515h2v1h-2zM277 514h2v1h-2zM279 513h2v1h-2zM281 512h2v1h-2zM283 511h1v1h-1zM284 510h2v1h-2zM286 509h2v1h-2zM288 508h2v1h-2zM290 507h2v1h-2zM292 506h2v1h-2zM294 505h2v1h-2zM296 504h3v1h-3zM299 503h2v1h-2zM301 502h2v1h-2zM303 501h3v1h-3zM306 500h2v1h-2zM308 499h2v1h-2zM310 498h3v1h-3zM313 497h3v1h-3zM316 496h14v1h-14zM330 495h9v1h-9zM339 494h8v1h-8zM347 493h9v1h-9zM356 492h10v1h-10zM366 491h8v1h-8zM374 490h4v1h-4zM378 489h3v1h-3zM381 488h4v1h-4zM385 487h3v1h-3zM388 486h3v1h-3zM391 485h3v1h-3zM394 484h4v1h-4zM398 483h6v1h-6zM404 482h5v1h-5zM409 481h6v1h-6zM415 480h5v1h-5zM420 479h6v1h-6zM426 478h5v1h-5zM431 477h6v1h-6zM437 476h6v1h-6zM443 475h5v1h-5zM448 474h5v1h-5zM453 473h2v1h-2zM455 472h3v1h-3zM458 471h2v1h-2zM460 470h1v1h-1zM461 469h2v1h-2zM463 468h2v1h-2zM465 467h2v1h-2zM467 466h2v1h-2zM469 465h2v1h-2zM471 464h2v1h-2zM473 463h2v1h-2zM475 462h2v1h-2zM477 461h2v1h-2zM479 460h2v1h-2zM481 459h2v1h-2zM483 458h1v1h-1zM484 457h2v1h-2zM486 456h1v1h-1zM487 455h1v1h-1zM488 454h1v1h-1zM489 453h1v1h-1zM490 452h1v1h-1zM491 451h1v1h-1zM492 450h1v1h-1zM493 449h1v1h-1zM494 448h1v1h-1zM495 447h1v1h-1zM496 446h1v1h-1zM497 445h1v1h-1zM498 444h1v1h-1zM499 442h1v2h-1zM500 441h1v1h-1zM501 440h1v1h-1zM502 439h1v1h-1zM503 438h1v1h-1zM504 437h1v1h-1zM505 436h1v1h-1zM506 435h1v1h-1zM507 434h1v1h-1zM508 433h1v1h-1zM509 432h1v1h-1zM510 431h1v1h-1zM511 430h1v1h-1zM512 429h1v1h-1zM513 428h1v1h-1zM514 427h1v1h-1zM515 426h1v1h-1zM516 424h1v2h-1zM517 423h1v1h-1zM518 421h1v2h-1zM519 420h1v1h-1zM520 418h1v2h-1zM521 416h1v2h-1zM522 414h1v2h-1zM523 412h1v2h-1zM524 410h1v2h-1zM525 408h1v2h-1zM526 405h1v3h-1zM527 403h1v2h-1zM528 401h1v2h-1zM529 399h1v2h-1zM530 397h1v2h-1zM531 395h1v2h-1zM532 393h1v2h-1zM533 391h1v2h-1zM534 389h1v2h-1zM535 387h1v2h-1zM536 385h1v2h-1zM537 382h1v3h-1zM538 380h1v2h-1zM539 378h1v2h-1zM540 376h1v2h-1zM541 374h1v2h-1zM542 372h1v2h-1zM543 370h1v2h-1zM544 368h1v2h-1zM545 366h1v2h-1zM546 364h1v2h-1zM547 362h1v2h-1zM548 360h1v2h-1zM549 358h1v2h-1zM550 356h1v2h-1zM551 354h1v2h-1zM552 352h1v2h-1zM553 350h1v2h-1zM554 348h1v2h-1zM555 346h1v2h-1zM556 344h1v2h-1zM557 342h1v2h-1zM558 339h1v3h-1zM559 337h1v2h-1zM560 335h1v2h-1zM561 333h1v2h-1zM562 331h1v2h-1zM563 329h1v2h-1zM564 327h1v2h-1zM565 325h1v2h-1zM566 323h1v2h-1zM567 321h1v2h-1zM568 319h1v2h-1zM569 317h1v2h-1zM570 315h1v2h-1zM571 313h1v2h-1zM572 311h1v2h-1zM573 309h1v2h-1zM574 307h1v2h-1zM575 305h1v2h-1zM576 303h1v2h-1zM577 301h1v2h-1zM578 299h1v2h-1zM579 297h1v2h-1zM580 295h1v2h-1zM581 293h1v2h-1zM582 291h1v2h-1zM583 289h1v2h-1zM584 287h1v2h-1zM585 285h1v2h-1zM586 283h1v2h-1zM587 281h1v2h-1zM588 279h1v2h-1zM589 277h1v2h-1zM590 275h1v2h-1zM591 273h1v2h-1zM592 271h1v2h-1zM593 269h1v2h-1zM594 267h1v2h-1zM595 265h1v2h-1zM596 263h1v2h-1zM597 261h1v2h-1zM598 259h1v2h-1zM599 257h1v2h-1zM600 255h1v2h-1zM601 253h1v2h-1zM602 251h1v2h-1zM603 249h1v2h-1zM604 247h1v2h-1zM605 245h1v2h-1zM606 242h1v3h-1zM607 240h1v2h-1zM608 238h1v2h-1zM609 236h1v2h-1zM610 234h1v2h-1zM611 232h1v2h-1zM612 230h1v2h-1zM613 227h1v3h-1zM614 225h1v2h-1zM615 223h1v2h-1zM616 221h1v2h-1zM617 219h1v2h-1zM618 217h1v2h-1zM619 215h1v2h-1zM620 212h1v3h-1zM621 210h1v2h-1zM622 208h1v2h-1zM623 206h1v2h-1zM624 204h1v2h-1zM625 202h1v2h-1zM626 201h1v1h-1zM627 199h1v2h-1zM628 197h1v2h-1zM629 195h1v2h-1zM630 193h1v2h-1zM631 192h1v1h-1zM632 190h1v2h-1zM633 188h1v2h-1zM634 186h1v2h-1zM635 185h1v1h-1zM636 183h1v2h-1zM637 181h1v2h-1zM638 180h1v1h-1zM639 178h1v2h-1zM640 177h1v1h-1zM641 175h1v2h-1zM642 174h1v1h-1zM643 172h1v2h-1zM644 171h1v1h-1zM645 169h1v2h-1zM646 168h1v1h-1zM647 167h1v1h-1zM648 165h1v2h-1zM649 164h1v1h-1zM650 163h1v1h-1zM651 162h1v1h-1zM652 161h1v1h-1zM653 160h1v1h-1zM654 159h1v1h-1zM655 158h2v1h-2zM657 157h1v1h-1zM658 156h2v1h-2zM660 155h2v1h-2zM662 154h2v1h-2zM664 153h2v1h-2zM666 152h2v1h-2zM668 151h2v1h-2zM670 150h2v1h-2zM672 149h1v1h-1zM673 148h2v1h-2zM675 147h2v1h-2zM677 146h2v1h-2zM679 145h2v1h-2zM681 144h2v1h-2zM683 143h2v1h-2zM685 142h12v1h-12zM697 143h4v1h-4zM701 144h3v1h-3zM704 145h4v1h-4zM708 146h5v1h-5zM713 145h7v1h-7zM720 146h4v1h-4zM724 147h3v1h-3zM727 148h3v1h-3zM730 149h3v1h-3zM733 150h3v1h-3zM736 151h3v1h-3zM739 152h2v1h-2zM741 153h2v1h-2zM743 154h1v1h-1zM744 155h2v1h-2zM746 156h1v1h-1zM747 157h1v1h-1zM748 158h1v1h-1zM749 159h2v1h-2zM751 160h1v1h-1zM752 161h1v1h-1zM753 162h1v1h-1zM754 163h2v1h-2zM756 164h1v1h-1zM757 165h1v1h-1zM758 166h1v1h-1zM759 167h2v1h-2zM761 168h1v1h-1zM762 169h1v1h-1zM763 170h1v1h-1zM764 171h1v1h-1zM765 172h1v1h-1zM766 173h1v1h-1zM767 174h2v1h-2zM769 175h1v1h-1zM770 176h1v1h-1zM771 177h1v1h-1zM772 178h1v1h-1zM773 179h1v1h-1zM774 180h1v1h-1zM775 181h1v1h-1zM776 182h1v1h-1zM777 183h1v1h-1zM778 184h2v1h-2zM780 185h1v1h-1zM781 186h2v1h-2zM783 187h1v1h-1zM784 188h2v1h-2zM786 189h1v1h-1zM787 190h2v1h-2zM789 191h1v1h-1zM790 192h2v1h-2zM792 193h2v1h-2zM794 194h2v1h-2zM796 195h2v1h-2zM798 196h3v1h-3zM801 197h3v1h-3zM804 198h3v1h-3zM807 199h4v1h-4zM811 200h10v1h-10zM821 199h3v1h-3zM824 198h2v1h-2zM826 197h2v1h-2zM828 196h2v1h-2zM830 195h2v1h-2zM832 194h3v1h-3zM835 193h2v1h-2zM837 192h2v1h-2zM839 191h2v1h-2zM841 190h3v1h-3zM844 189h3v1h-3zM847 188h3v1h-3zM850 187h3v1h-3zM853 186h3v1h-3zM856 185h3v1h-3zM859 184h4v1h-4zM863 183h3v1h-3zM866 182h3v1h-3zM869 181h4v1h-4zM873 180h3v1h-3zM876 179h20v1h-20zM896 178h8v1h-8zM904 177h6v1h-6zM910 176h2v1h-2zM912 175h3v1h-3zM915 174h2v1h-2zM917 173h2v1h-2zM919 172h2v1h-2zM921 171h2v1h-2zM923 170h2v1h-2zM925 169h2v1h-2zM927 168h2v1h-2zM929 167h2v1h-2zM931 166h2v1h-2zM933 165h2v1h-2zM935 164h2v1h-2zM937 163h1v1h-1zM938 162h2v1h-2zM940 161h2v1h-2zM942 160h2v1h-2zM944 159h2v1h-2zM946 158h3v1h-3zM949 157h23v1h-23zM972 158h4v1h-4zM976 159h18v1h-18zM994 158h3v1h-3zM997 157h2v1h-2zM999 156h3v1h-3zM1002 155h3v1h-3zM1005 154h3v1h-3zM1008 153h4v1h-4zM1012 152h3v1h-3zM1015 151h4v1h-4zM1019 150h4v1h-4zM1023 149h8v1h-8zM1031 148h12v1h-12zM1043 149h5v1h-5zM1048 150h5v1h-5zM1053 151h7v1h-7zM1060 152h15v1h-15zM1075 151h6v1h-6zM1081 150h7v1h-7zM1088 149h24v1h-24zM1112 148h4v1h-4zM1116 147h4v1h-4zM1120 146h3v1h-3zM1123 145h3v1h-3zM1126 144h4v1h-4zM1130 143h4v1h-4zM1134 142h4v1h-4zM1138 141h4v1h-4zM1142 140h3v1h-3zM1145 139h2v1h-2zM1147 138h2v1h-2zM1149 137h2v1h-2zM1151 136h2v1h-2zM1153 135h2v1h-2zM1155 134h2v1h-2zM1157 133h2v1h-2zM1159 132h2v1h-2zM1161 131h3v1h-3zM1164 130h15v1h-15zM1179 131h11v1h-11zM1190 130h17v1h-17zM1207 129h4v1h-4zM1211 128h3v1h-3zM1214 127h2v1h-2zM1216 126h3v1h-3zM1219 125h3v1h-3zM1222 124h4v1h-4zM1226 123h5v1h-5zM1231 122h7v1h-7zM1238 121h12v1h-12zM1250 122h4v1h-4zM1254 123h5v1h-5zM1259 124h4v1h-4zM1263 125h4v1h-4zM1267 126h3v1h-3zM1270 127h4v1h-4zM1274 128h3v1h-3zM1277 129h3v1h-3zM1280 130h4v1h-4zM1284 131h5v1h-5zM1289 132h5v1h-5zM1294 133h3v1h-3zM1297 134h3v1h-3zM1300 135h2v1h-2zM1302 136h3v1h-3zM1305 137h3v1h-3zM1308 138h2v1h-2zM1310 139h3v1h-3zM1313 140h2v1h-2zM1315 141h2v1h-2zM1317 142h2v1h-2zM1319 143h2v1h-2zM1321 144h2v1h-2zM1323 145h2v1h-2zM1325 146h2v1h-2zM1327 147h1v1h-1zM1328 148h2v1h-2zM1330 149h2v1h-2zM1332 150h2v1h-2z" fill="#ffa500" shape-rendering="crispEdges"/>
<g shape-rendering="crispEdges">
<rect x="5" y="101" width="1685" height="2" fill="#ff0000"/>
<rect x="5" y="184" width="1685" height="2" fill="#32cd32"/>
<rect x="5" y="251" width="1685" height="2" fill="#4169e1"/>
<rect x="5" y="327" width="1685" height="2" fill="#4169e1"/>
</g>
<path d="M1347 29 L1356.4 29 L1351.7 34.2 Z" fill="#778899"/>
<path d="M8 35 L15.2 35 L11.6 39.2 Z" fill="#000"/>
<g shape-rendering="crispEdges" fill="#c0c0c0" id="macd">
<rect x="5" y="707" width="1" height="7"/>
<rect x="13" y="708" width="1" height="6"/>
<rect x="21" y="708" width="1" height="6"/>
<rect x="29" y="708" width="1" height="6"/>
<rect x="37" y="709" width="1" height="5"/>
<rect x="45" y="710" width="1" height="4"/>
<rect x="53" y="711" width="1" height="3"/>
<rect x="69" y="714" width="1" height="3"/>
<rect x="77" y="714" width="1" height="6"/>
<rect x="85" y="714" width="1" height="8"/>
<rect x="93" y="714" width="1" height="8"/>
<rect x="101" y="714" width="1" height="8"/>
<rect x="109" y="714" width="1" height="7"/>
<rect x="117" y="714" width="1" height="9"/>
<rect x="125" y="714" width="1" height="10"/>
<rect x="133" y="714" width="1" height="8"/>
<rect x="141" y="714" width="1" height="8"/>
<rect x="149" y="714" width="1" height="7"/>
<rect x="157" y="714" width="1" height="3"/>
<rect x="173" y="711" width="1" height="3"/>
<rect x="181" y="708" width="1" height="6"/>
<rect x="189" y="705" width="1" height="9"/>
<rect x="197" y="704" width="1" height="10"/>
<rect x="205" y="703" width="1" height="11"/>
<rect x="213" y="703" width="1" height="11"/>
<rect x="221" y="702" width="1" height="12"/>
<rect x="229" y="701" width="1" height="13"/>
<rect x="237" y="699" width="1" height="15"/>
<rect x="245" y="699" width="1" height="15"/>
<rect x="253" y="698" width="1" height="16"/>
<rect x="261" y="696" width="1" height="18"/>
<rect x="269" y="696" width="1" height="18"/>
<rect x="277" y="696" width="1" height="18"/>
<rect x="285" y="696" width="1" height="18"/>
<rect x="293" y="696" width="1" height="18"/>
<rect x="301" y="700" width="1" height="14"/>
<rect x="309" y="700" width="1" height="14"/>
<rect x="317" y="702" width="1" height="12"/>
<rect x="325" y="705" width="1" height="9"/>
<rect x="333" y="705" width="1" height="9"/>
<rect x="341" y="705" width="1" height="9"/>
<rect x="349" y="705" width="1" height="9"/>
<rect x="357" y="705" width="1" height="9"/>
<rect x="365" y="706" width="1" height="8"/>
<rect x="373" y="706" width="1" height="8"/>
<rect x="381" y="705" width="1" height="9"/>
<rect x="389" y="704" width="1" height="10"/>
<rect x="397" y="702" width="1" height="12"/>
<rect x="405" y="701" width="1" height="13"/>
<rect x="413" y="700" width="1" height="14"/>
<rect x="421" y="699" width="1" height="15"/>
<rect x="429" y="698" width="1" height="16"/>
<rect x="437" y="697" width="1" height="17"/>
<rect x="445" y="698" width="1" height="16"/>
<rect x="453" y="698" width="1" height="16"/>
<rect x="461" y="697" width="1" height="17"/>
<rect x="469" y="696" width="1" height="18"/>
<rect x="477" y="694" width="1" height="20"/>
<rect x="485" y="690" width="1" height="24"/>
<rect x="493" y="686" width="1" height="28"/>
<rect x="501" y="681" width="1" height="33"/>
<rect x="509" y="677" width="1" height="37"/>
<rect x="517" y="671" width="1" height="43"/>
<rect x="525" y="660" width="1" height="54"/>
<rect x="533" y="647" width="1" height="67"/>
<rect x="541" y="637" width="1" height="77"/>
<rect x="549" y="631" width="1" height="83"/>
<rect x="557" y="628" width="1" height="86"/>
<rect x="565" y="625" width="1" height="89"/>
<rect x="573" y="621" width="1" height="93"/>
<rect x="581" y="618" width="1" height="96"/>
<rect x="589" y="619" width="1" height="95"/>
<rect x="597" y="623" width="1" height="91"/>
<rect x="605" y="624" width="1" height="90"/>
<rect x="613" y="625" width="1" height="89"/>
<rect x="621" y="629" width="1" height="85"/>
<rect x="629" y="633" width="1" height="81"/>
<rect x="637" y="638" width="1" height="76"/>
<rect x="645" y="643" width="1" height="71"/>
<rect x="653" y="652" width="1" height="62"/>
<rect x="661" y="665" width="1" height="49"/>
<rect x="669" y="676" width="1" height="38"/>
<rect x="677" y="684" width="1" height="30"/>
<rect x="685" y="686" width="1" height="28"/>
<rect x="693" y="688" width="1" height="26"/>
<rect x="701" y="689" width="1" height="25"/>
<rect x="709" y="691" width="1" height="23"/>
<rect x="717" y="689" width="1" height="25"/>
<rect x="725" y="690" width="1" height="24"/>
<rect x="733" y="692" width="1" height="22"/>
<rect x="741" y="693" width="1" height="21"/>
<rect x="749" y="699" width="1" height="15"/>
<rect x="757" y="707" width="1" height="7"/>
<rect x="765" y="712" width="1" height="2"/>
<rect x="773" y="714" width="1" height="1"/>
<rect x="781" y="714" width="1" height="3"/>
<rect x="789" y="714" width="1" height="4"/>
<rect x="797" y="714" width="1" height="2"/>
<rect x="805" y="713" width="1" height="1"/>
<rect x="813" y="711" width="1" height="3"/>
<rect x="821" y="710" width="1" height="4"/>
<rect x="829" y="709" width="1" height="5"/>
<rect x="837" y="707" width="1" height="7"/>
<rect x="845" y="704" width="1" height="10"/>
<rect x="853" y="701" width="1" height="13"/>
<rect x="861" y="698" width="1" height="16"/>
<rect x="869" y="696" width="1" height="18"/>
<rect x="877" y="694" width="1" height="20"/>
<rect x="885" y="694" width="1" height="20"/>
<rect x="893" y="695" width="1" height="19"/>
<rect x="901" y="696" width="1" height="18"/>
<rect x="909" y="700" width="1" height="14"/>
<rect x="917" y="701" width="1" height="13"/>
<rect x="925" y="703" width="1" height="11"/>
<rect x="933" y="703" width="1" height="11"/>
<rect x="941" y="702" width="1" height="12"/>
<rect x="949" y="705" width="1" height="9"/>
<rect x="957" y="711" width="1" height="3"/>
<rect x="965" y="713" width="1" height="1"/>
<rect x="973" y="713" width="1" height="1"/>
<rect x="981" y="714" width="1" height="2"/>
<rect x="989" y="714" width="1" height="2"/>
<rect x="1005" y="708" width="1" height="6"/>
<rect x="1013" y="704" width="1" height="10"/>
<rect x="1021" y="700" width="1" height="14"/>
<rect x="1029" y="698" width="1" height="16"/>
<rect x="1037" y="697" width="1" height="17"/>
<rect x="1045" y="699" width="1" height="15"/>
<rect x="1053" y="704" width="1" height="10"/>
<rect x="1061" y="707" width="1" height="7"/>
<rect x="1069" y="707" width="1" height="7"/>
<rect x="1077" y="709" width="1" height="5"/>
<rect x="1085" y="708" width="1" height="6"/>
<rect x="1093" y="709" width="1" height="5"/>
<rect x="1101" y="709" width="1" height="5"/>
<rect x="1109" y="708" width="1" height="6"/>
<rect x="1117" y="710" width="1" height="4"/>
<rect x="1125" y="712" width="1" height="2"/>
<rect x="1133" y="713" width="1" height="1"/>
<rect x="1141" y="712" width="1" height="2"/>
<rect x="1149" y="711" width="1" height="3"/>
<rect x="1157" y="706" width="1" height="8"/>
<rect x="1165" y="702" width="1" height="12"/>
<rect x="1173" y="702" width="1" height="12"/>
<rect x="1181" y="701" width="1" height="13"/>
<rect x="1189" y="700" width="1" height="14"/>
<rect x="1197" y="699" width="1" height="15"/>
<rect x="1205" y="699" width="1" height="15"/>
<rect x="1213" y="700" width="1" height="14"/>
<rect x="1221" y="701" width="1" height="13"/>
<rect x="1229" y="704" width="1" height="10"/>
<rect x="1237" y="706" width="1" height="8"/>
<rect x="1245" y="708" width="1" height="6"/>
<rect x="1253" y="713" width="1" height="1"/>
<rect x="1261" y="714" width="1" height="2"/>
<rect x="1269" y="714" width="1" height="4"/>
<rect x="1277" y="714" width="1" height="8"/>
<rect x="1285" y="714" width="1" height="12"/>
<rect x="1293" y="714" width="1" height="14"/>
<rect x="1301" y="714" width="1" height="17"/>
<rect x="1309" y="714" width="1" height="19"/>
<rect x="1317" y="714" width="1" height="19"/>
<rect x="1325" y="714" width="1" height="17"/>
<rect x="1333" y="714" width="1" height="16"/>
</g>
<path d="M5 699h3v1h-3zM11 700h2v1h-2zM13 701h1v1h-1zM17 701h1v1h-1zM18 702h2v1h-2zM23 703h3v1h-3zM29 704h3v1h-3zM35 705h3v1h-3zM41 705h2v1h-2zM43 706h1v1h-1zM47 706h3v1h-3zM53 707h3v1h-3zM59 707h1v1h-1zM60 708h2v1h-2zM65 708h2v1h-2zM67 709h1v1h-1zM71 709h1v1h-1zM72 710h2v1h-2zM77 711h3v1h-3zM83 712h2v1h-2zM85 713h1v1h-1zM89 713h1v1h-1zM90 714h2v1h-2zM95 715h3v1h-3zM101 716h3v1h-3zM107 717h1v1h-1zM108 718h2v1h-2zM113 719h3v1h-3zM119 720h3v1h-3zM125 721h3v1h-3zM131 722h3v1h-3zM137 722h3v1h-3zM143 722h3v1h-3zM149 722h3v1h-3zM155 722h3v1h-3zM161 721h3v1h-3zM167 720h3v1h-3zM173 720h1v1h-1zM174 719h2v1h-2zM179 718h3v1h-3zM185 717h2v1h-2zM187 716h1v1h-1zM191 715h3v1h-3zM197 714h1v1h-1zM198 713h2v1h-2zM203 712h2v1h-2zM205 711h1v1h-1zM209 710h2v1h-2zM211 709h1v1h-1zM215 708h2v1h-2zM217 707h1v1h-1zM221 706h3v1h-3zM227 704h3v1h-3zM233 703h3v1h-3zM239 702h3v1h-3zM245 701h3v1h-3zM251 700h3v1h-3zM257 700h1v1h-1zM258 699h2v1h-2zM263 699h2v1h-2zM265 698h1v1h-1zM269 698h3v1h-3zM275 698h3v1h-3zM281 697h3v1h-3zM287 697h3v1h-3zM293 697h3v1h-3zM299 697h3v1h-3zM305 697h3v1h-3zM311 697h3v1h-3zM317 697h3v1h-3zM323 697h1v1h-1zM324 698h2v1h-2zM329 698h2v1h-2zM331 699h1v1h-1zM335 699h2v1h-2zM337 700h1v1h-1zM341 700h3v1h-3zM347 701h3v1h-3zM353 702h3v1h-3zM359 702h3v1h-3zM365 703h3v1h-3zM371 703h3v1h-3zM377 704h3v1h-3zM383 704h3v1h-3zM389 704h3v1h-3zM395 704h1v1h-1zM396 703h2v1h-2zM401 703h3v1h-3zM407 703h3v1h-3zM413 703h2v1h-2zM415 702h1v1h-1zM419 702h3v1h-3zM425 701h3v1h-3zM431 700h3v1h-3zM437 700h3v1h-3zM443 700h1v1h-1zM444 699h2v1h-2zM449 699h3v1h-3zM455 699h1v1h-1zM456 698h2v1h-2zM461 698h3v1h-3zM467 697h3v1h-3zM473 697h3v1h-3zM479 696h3v1h-3zM485 695h3v1h-3zM491 694h3v1h-3zM497 693h3v1h-3zM503 692h1v1h-1zM504 691h2v1h-2zM509 690h1v1h-1zM510 689h2v1h-2zM515 687h2v1h-2zM517 686h1v1h-1zM521 684h2v1h-2zM523 683h1v1h-1zM527 681h1v1h-1zM528 680h1v1h-1zM529 679h1v1h-1zM533 676h1v1h-1zM534 675h2v1h-2zM539 671h1v1h-1zM540 670h2v1h-2zM545 666h2v1h-2zM547 665h1v1h-1zM551 662h1v1h-1zM552 661h1v1h-1zM553 660h1v1h-1zM557 657h1v1h-1zM558 656h1v1h-1zM559 655h1v1h-1zM563 652h1v1h-1zM564 651h1v1h-1zM565 650h1v1h-1zM569 647h1v1h-1zM570 646h2v1h-2zM575 642h1v1h-1zM576 641h1v1h-1zM577 640h1v1h-1zM581 637h1v1h-1zM582 636h1v1h-1zM583 635h1v1h-1zM587 632h2v1h-2zM589 631h1v1h-1zM593 629h1v1h-1zM594 628h2v1h-2zM599 626h2v1h-2zM601 625h1v1h-1zM605 624h3v1h-3zM611 623h3v1h-3zM617 622h3v1h-3zM623 622h3v1h-3zM629 623h3v1h-3zM635 624h3v1h-3zM641 625h1v1h-1zM642 626h2v1h-2zM647 628h2v1h-2zM649 629h1v1h-1zM653 631h1v1h-1zM654 632h2v1h-2zM659 635h2v1h-2zM661 636h1v1h-1zM665 639h2v1h-2zM667 640h1v1h-1zM671 643h1v1h-1zM672 644h1v1h-1zM673 645h1v1h-1zM677 648h1v1h-1zM678 649h1v1h-1zM679 650h1v1h-1zM683 653h1v1h-1zM684 654h2v1h-2zM689 658h1v1h-1zM690 659h2v1h-2zM695 663h1v1h-1zM696 664h1v1h-1zM697 665h1v1h-1zM701 668h1v1h-1zM702 669h1v1h-1zM703 670h1v1h-1zM707 672h1v1h-1zM708 673h1v1h-1zM709 674h1v1h-1zM713 676h1v1h-1zM714 677h2v1h-2zM719 680h2v1h-2zM721 681h1v1h-1zM725 683h2v1h-2zM727 684h1v1h-1zM731 685h1v1h-1zM732 686h2v1h-2zM737 687h3v1h-3zM743 688h1v1h-1zM744 689h2v1h-2zM749 690h3v1h-3zM755 691h1v1h-1zM756 692h2v1h-2zM761 694h3v1h-3zM767 696h3v1h-3zM773 698h2v1h-2zM775 699h1v1h-1zM779 700h1v1h-1zM780 701h2v1h-2zM785 703h3v1h-3zM791 705h2v1h-2zM793 706h1v1h-1zM797 707h1v1h-1zM798 708h2v1h-2zM803 709h1v1h-1zM804 710h2v1h-2zM809 711h3v1h-3zM815 712h3v1h-3zM821 713h3v1h-3zM827 713h3v1h-3zM833 713h3v1h-3zM839 712h3v1h-3zM845 711h2v1h-2zM847 710h1v1h-1zM851 709h3v1h-3zM857 708h2v1h-2zM859 707h1v1h-1zM863 706h3v1h-3zM869 705h2v1h-2zM871 704h1v1h-1zM875 703h1v1h-1zM876 702h2v1h-2zM881 701h2v1h-2zM883 700h1v1h-1zM887 700h2v1h-2zM889 699h1v1h-1zM893 699h1v1h-1zM894 698h2v1h-2zM899 697h3v1h-3zM905 697h3v1h-3zM911 696h3v1h-3zM917 696h3v1h-3zM923 696h3v1h-3zM929 697h3v1h-3zM935 697h3v1h-3zM941 698h3v1h-3zM947 699h3v1h-3zM953 699h1v1h-1zM954 700h2v1h-2zM959 701h3v1h-3zM965 703h3v1h-3zM971 704h3v1h-3zM977 705h1v1h-1zM978 706h2v1h-2zM983 707h2v1h-2zM985 708h1v1h-1zM989 709h3v1h-3zM995 709h1v1h-1zM996 710h2v1h-2zM1001 710h3v1h-3zM1007 710h3v1h-3zM1013 710h3v1h-3zM1019 710h3v1h-3zM1025 709h3v1h-3zM1031 708h3v1h-3zM1037 707h2v1h-2zM1039 706h1v1h-1zM1043 705h3v1h-3zM1049 704h2v1h-2zM1051 703h1v1h-1zM1055 703h3v1h-3zM1061 702h3v1h-3zM1067 702h3v1h-3zM1073 702h3v1h-3zM1079 702h3v1h-3zM1085 702h3v1h-3zM1091 702h1v1h-1zM1092 703h2v1h-2zM1097 703h1v1h-1zM1098 704h2v1h-2zM1103 705h3v1h-3zM1109 706h3v1h-3zM1115 707h3v1h-3zM1121 707h1v1h-1zM1122 708h2v1h-2zM1127 708h3v1h-3zM1133 708h3v1h-3zM1139 709h3v1h-3zM1145 709h3v1h-3zM1151 709h3v1h-3zM1157 708h3v1h-3zM1163 708h3v1h-3zM1169 708h3v1h-3zM1175 707h3v1h-3zM1181 707h2v1h-2zM1183 706h1v1h-1zM1187 705h3v1h-3zM1193 704h3v1h-3zM1199 704h2v1h-2zM1201 703h1v1h-1zM1205 702h3v1h-3zM1211 701h3v1h-3zM1217 700h3v1h-3zM1223 700h3v1h-3zM1229 700h3v1h-3zM1235 700h3v1h-3zM1241 700h1v1h-1zM1242 701h2v1h-2zM1247 701h3v1h-3zM1253 702h3v1h-3zM1259 703h3v1h-3zM1265 704h1v1h-1zM1266 705h2v1h-2zM1271 706h3v1h-3zM1277 708h1v1h-1zM1278 709h2v1h-2zM1283 711h1v1h-1zM1284 712h2v1h-2zM1289 714h3v1h-3zM1295 716h2v1h-2zM1297 717h1v1h-1zM1301 718h1v1h-1zM1302 719h2v1h-2zM1307 720h1v1h-1zM1308 721h2v1h-2zM1313 723h3v1h-3zM1319 725h3v1h-3zM1325 726h3v1h-3zM1331 727h1v1h-1zM1332 728h2v1h-2z" fill="#ff0000" shape-rendering="crispEdges"/>
<g shape-rendering="crispEdges">
<line x1="6" y1="781.5" x2="1690" y2="781.5" stroke="#c0c0c0" stroke-width="1" stroke-dasharray="3 3"/>
<line x1="6" y1="831.5" x2="1690" y2="831.5" stroke="#c0c0c0" stroke-width="1" stroke-dasharray="3 3"/>
</g>
<path d="M5 807h1v1h-1zM6 806h1v1h-1zM7 805h2v1h-2zM9 804h1v1h-1zM10 803h1v1h-1zM11 802h2v1h-2zM13 801h3v1h-3zM16 800h8v1h-8zM24 801h2v1h-2zM26 802h3v1h-3zM29 803h6v1h-6zM35 804h11v1h-11zM46 805h2v1h-2zM48 806h1v1h-1zM49 807h1v1h-1zM50 808h1v1h-1zM51 809h2v1h-2zM53 810h1v2h-1zM54 812h1v1h-1zM55 813h1v1h-1zM56 814h1v1h-1zM57 815h1v2h-1zM58 817h1v1h-1zM59 818h1v1h-1zM60 819h1v1h-1zM61 820h1v1h-1zM62 821h1v1h-1zM63 822h1v1h-1zM64 823h1v1h-1zM65 824h2v1h-2zM67 825h1v1h-1zM68 826h1v1h-1zM69 827h9v1h-9zM78 826h3v1h-3zM81 825h2v1h-2zM83 824h2v1h-2zM85 823h1v1h-1zM86 822h1v1h-1zM87 821h1v1h-1zM88 820h1v1h-1zM89 819h1v1h-1zM90 818h1v1h-1zM91 817h1v1h-1zM92 816h1v1h-1zM93 815h5v1h-5zM98 814h5v1h-5zM103 815h3v1h-3zM106 816h3v1h-3zM109 817h10v1h-10zM119 818h1v1h-1zM120 819h2v1h-2zM122 820h1v1h-1zM123 821h2v1h-2zM125 822h1v1h-1zM126 821h1v1h-1zM127 820h1v1h-1zM128 819h1v1h-1zM129 818h1v1h-1zM130 817h1v1h-1zM131 816h1v1h-1zM132 815h1v1h-1zM133 814h3v1h-3zM136 813h7v1h-7zM143 812h5v1h-5zM148 811h1v1h-1zM149 810h1v2h-1zM150 807h1v3h-1zM151 804h1v3h-1zM152 802h1v2h-1zM153 799h1v3h-1zM154 796h1v3h-1zM155 793h1v3h-1zM156 790h1v3h-1zM157 788h1v2h-1zM158 788h10v1h-10zM168 787h6v1h-6zM174 786h5v1h-5zM179 785h4v1h-4zM183 784h2v1h-2zM185 783h2v1h-2zM187 782h3v1h-3zM190 783h2v1h-2zM192 784h1v1h-1zM193 785h1v1h-1zM194 786h1v1h-1zM195 787h1v1h-1zM196 788h1v1h-1zM197 789h18v1h-18zM215 790h2v1h-2zM217 791h3v1h-3zM220 792h2v1h-2zM222 791h1v1h-1zM223 790h1v1h-1zM224 789h1v1h-1zM225 788h1v1h-1zM226 787h1v1h-1zM227 786h1v1h-1zM228 785h1v1h-1zM229 784h3v1h-3zM232 783h14v1h-14zM246 782h1v1h-1zM247 781h2v1h-2zM249 780h1v1h-1zM250 779h2v1h-2zM252 778h4v1h-4zM256 779h2v1h-2zM258 780h2v1h-2zM260 781h3v1h-3zM263 782h2v1h-2zM265 783h3v1h-3zM268 784h4v1h-4zM272 783h13v1h-13zM285 783h1v2h-1zM286 785h1v2h-1zM287 787h1v2h-1zM288 789h1v2h-1zM289 791h1v2h-1zM290 793h1v2h-1zM291 795h1v3h-1zM292 798h1v2h-1zM293 800h9v1h-9zM302 799h2v1h-2zM304 798h1v1h-1zM305 797h2v1h-2zM307 796h1v1h-1zM308 795h3v1h-3zM311 796h3v1h-3zM314 797h2v1h-2zM316 798h1v1h-1zM317 798h1v2h-1zM318 800h1v2h-1zM319 802h1v1h-1zM320 803h1v2h-1zM321 805h1v2h-1zM322 807h1v1h-1zM323 808h1v2h-1zM324 810h1v2h-1zM325 811h1v2h-1zM326 810h1v1h-1zM327 808h1v2h-1zM328 806h1v2h-1zM329 805h1v1h-1zM330 803h1v2h-1zM331 801h1v2h-1zM332 800h1v1h-1zM333 799h1v1h-1zM334 798h2v1h-2zM336 797h2v1h-2zM338 796h2v1h-2zM340 795h3v1h-3zM343 796h3v1h-3zM346 797h2v1h-2zM348 798h3v1h-3zM351 797h2v1h-2zM353 796h3v1h-3zM356 795h2v1h-2zM358 796h1v1h-1zM359 797h1v1h-1zM360 798h2v1h-2zM362 799h1v1h-1zM363 800h1v1h-1zM364 801h1v1h-1zM365 802h2v1h-2zM367 801h3v1h-3zM370 800h3v1h-3zM373 799h1v1h-1zM374 798h2v1h-2zM376 797h1v1h-1zM377 796h1v1h-1zM378 795h2v1h-2zM380 794h1v1h-1zM381 793h1v1h-1zM382 792h2v1h-2zM384 791h2v1h-2zM386 790h1v1h-1zM387 789h2v1h-2zM389 788h2v1h-2zM391 787h3v1h-3zM394 786h2v1h-2zM396 785h2v1h-2zM398 786h1v1h-1zM399 787h2v1h-2zM401 788h1v1h-1zM402 789h1v1h-1zM403 790h2v1h-2zM405 791h2v1h-2zM407 790h2v1h-2zM409 789h2v1h-2zM411 788h2v1h-2zM413 787h11v1h-11zM424 786h4v1h-4zM428 785h3v1h-3zM431 784h2v1h-2zM433 783h2v1h-2zM435 782h2v1h-2zM437 781h1v2h-1zM438 783h1v2h-1zM439 785h1v2h-1zM440 787h1v2h-1zM441 789h1v1h-1zM442 790h1v2h-1zM443 792h1v2h-1zM444 794h1v2h-1zM445 796h2v1h-2zM447 795h3v1h-3zM450 794h2v1h-2zM452 793h2v1h-2zM454 792h1v1h-1zM455 791h1v1h-1zM456 790h1v1h-1zM457 789h1v1h-1zM458 788h1v1h-1zM459 787h1v1h-1zM460 786h1v1h-1zM461 785h6v1h-6zM467 786h3v1h-3zM470 785h1v1h-1zM471 784h1v1h-1zM472 783h1v1h-1zM473 782h1v1h-1zM474 781h1v1h-1zM475 780h1v1h-1zM476 779h1v1h-1zM477 778h1v1h-1zM478 777h2v1h-2zM480 776h2v1h-2zM482 775h2v1h-2zM484 774h2v1h-2zM486 773h2v1h-2zM488 772h1v1h-1zM489 771h2v1h-2zM491 770h2v1h-2zM493 769h2v1h-2zM495 768h3v1h-3zM498 767h3v1h-3zM501 766h5v1h-5zM506 765h4v1h-4zM510 764h3v1h-3zM513 763h3v1h-3zM516 762h2v1h-2zM518 761h1v1h-1zM519 760h1v1h-1zM520 759h1v1h-1zM521 758h1v1h-1zM522 757h1v1h-1zM523 756h2v1h-2zM525 755h1v1h-1zM526 754h4v1h-4zM530 753h12v1h-12zM542 754h1v1h-1zM543 755h1v1h-1zM544 756h1v1h-1zM545 757h1v1h-1zM546 758h1v2h-1zM547 760h1v1h-1zM548 761h1v1h-1zM549 762h10v1h-10zM559 761h5v1h-5zM564 760h5v1h-5zM569 759h6v1h-6zM575 758h7v1h-7zM582 759h1v1h-1zM583 760h1v1h-1zM584 761h1v1h-1zM585 762h1v1h-1zM586 763h1v2h-1zM587 765h1v1h-1zM588 766h1v1h-1zM589 767h1v1h-1zM590 768h1v1h-1zM591 769h2v1h-2zM593 770h1v1h-1zM594 771h1v1h-1zM595 772h1v1h-1zM596 773h1v1h-1zM597 774h1v1h-1zM598 773h2v1h-2zM600 772h2v1h-2zM602 771h2v1h-2zM604 770h10v1h-10zM614 771h1v1h-1zM615 772h1v1h-1zM616 773h1v1h-1zM617 774h1v2h-1zM618 776h1v1h-1zM619 777h1v1h-1zM620 778h1v1h-1zM621 779h3v1h-3zM624 778h7v1h-7zM631 779h1v1h-1zM632 780h1v1h-1zM633 781h2v1h-2zM635 782h1v1h-1zM636 783h1v1h-1zM637 784h3v1h-3zM640 785h2v1h-2zM642 786h2v1h-2zM644 787h2v1h-2zM646 788h1v2h-1zM647 790h1v1h-1zM648 791h1v1h-1zM649 792h1v1h-1zM650 793h1v2h-1zM651 795h1v1h-1zM652 796h1v1h-1zM653 797h1v2h-1zM654 799h1v2h-1zM655 801h1v2h-1zM656 803h1v2h-1zM657 805h1v2h-1zM658 807h1v2h-1zM659 809h1v2h-1zM660 811h1v2h-1zM661 813h6v1h-6zM667 814h3v1h-3zM670 813h2v1h-2zM672 812h2v1h-2zM674 811h2v1h-2zM676 810h2v1h-2zM678 808h1v2h-1zM679 807h1v1h-1zM680 806h1v1h-1zM681 805h1v1h-1zM682 804h1v1h-1zM683 802h1v2h-1zM684 801h1v1h-1zM685 800h6v1h-6zM691 799h8v1h-8zM699 798h11v1h-11zM710 797h1v1h-1zM711 796h1v1h-1zM712 795h2v1h-2zM714 794h1v1h-1zM715 793h1v1h-1zM716 792h1v1h-1zM717 791h1v1h-1zM718 792h1v1h-1zM719 793h1v1h-1zM720 794h1v1h-1zM721 795h2v1h-2zM723 796h1v1h-1zM724 797h1v1h-1zM725 798h2v1h-2zM727 799h2v1h-2zM729 800h3v1h-3zM732 801h3v1h-3zM735 800h3v1h-3zM738 799h2v1h-2zM740 798h1v1h-1zM741 798h1v2h-1zM742 800h1v2h-1zM743 802h1v2h-1zM744 804h1v2h-1zM745 806h1v2h-1zM746 808h1v2h-1zM747 810h1v1h-1zM748 811h1v2h-1zM749 813h1v1h-1zM750 814h2v1h-2zM752 815h1v1h-1zM753 816h2v1h-2zM755 817h2v1h-2zM757 818h2v1h-2zM759 817h2v1h-2zM761 816h3v1h-3zM764 815h11v1h-11zM775 814h3v1h-3zM778 813h3v1h-3zM781 812h5v1h-5zM786 811h4v1h-4zM790 810h1v1h-1zM791 809h1v1h-1zM792 808h1v1h-1zM793 806h1v2h-1zM794 805h1v1h-1zM795 804h1v1h-1zM796 803h1v1h-1zM797 802h2v1h-2zM799 801h1v1h-1zM800 800h1v1h-1zM801 799h2v1h-2zM803 798h1v1h-1zM804 797h5v1h-5zM809 798h3v1h-3zM812 799h4v1h-4zM816 800h4v1h-4zM820 801h11v1h-11zM831 800h5v1h-5zM836 799h2v1h-2zM838 798h2v1h-2zM840 797h1v1h-1zM841 796h1v1h-1zM842 795h2v1h-2zM844 794h1v1h-1zM845 793h3v1h-3zM848 792h4v1h-4zM852 791h5v1h-5zM857 790h13v1h-13zM870 789h4v1h-4zM874 788h5v1h-5zM879 789h2v1h-2zM881 790h2v1h-2zM883 791h1v1h-1zM884 792h2v1h-2zM886 793h1v1h-1zM887 794h1v1h-1zM888 795h1v1h-1zM889 796h1v1h-1zM890 797h2v1h-2zM892 798h1v1h-1zM893 799h2v1h-2zM895 798h2v1h-2zM897 797h3v1h-3zM900 796h2v1h-2zM902 797h1v2h-1zM903 799h1v2h-1zM904 801h1v1h-1zM905 802h1v2h-1zM906 804h1v2h-1zM907 806h1v1h-1zM908 807h1v2h-1zM909 809h1v1h-1zM910 808h1v1h-1zM911 807h2v1h-2zM913 806h1v1h-1zM914 805h1v1h-1zM915 804h2v1h-2zM917 803h4v1h-4zM921 804h6v1h-6zM927 803h3v1h-3zM930 802h3v1h-3zM933 801h2v1h-2zM935 800h2v1h-2zM937 799h1v1h-1zM938 798h2v1h-2zM940 797h2v1h-2zM942 798h1v1h-1zM943 799h1v2h-1zM944 801h1v1h-1zM945 802h1v1h-1zM946 803h1v2h-1zM947 805h1v1h-1zM948 806h1v1h-1zM949 807h1v2h-1zM950 809h1v1h-1zM951 810h1v2h-1zM952 812h1v1h-1zM953 813h1v2h-1zM954 815h1v1h-1zM955 816h1v2h-1zM956 818h1v1h-1zM957 819h1v1h-1zM958 817h1v2h-1zM959 816h1v1h-1zM960 815h1v1h-1zM961 814h1v1h-1zM962 812h1v2h-1zM963 811h1v1h-1zM964 810h1v1h-1zM965 809h3v1h-3zM968 810h4v1h-4zM972 811h11v1h-11zM983 810h4v1h-4zM987 809h3v1h-3zM990 807h1v2h-1zM991 806h1v1h-1zM992 805h1v1h-1zM993 804h1v1h-1zM994 803h1v1h-1zM995 801h1v2h-1zM996 800h1v1h-1zM997 799h1v1h-1zM998 798h1v1h-1zM999 797h1v1h-1zM1000 795h1v2h-1zM1001 794h1v1h-1zM1002 793h1v1h-1zM1003 792h1v1h-1zM1004 791h1v1h-1zM1005 790h5v1h-5zM1010 791h13v1h-13zM1023 792h5v1h-5zM1028 793h3v1h-3zM1031 794h2v1h-2zM1033 795h3v1h-3zM1036 796h2v1h-2zM1038 797h1v1h-1zM1039 798h1v1h-1zM1040 799h2v1h-2zM1042 800h1v1h-1zM1043 801h1v1h-1zM1044 802h1v1h-1zM1045 803h1v1h-1zM1046 804h1v1h-1zM1047 805h1v1h-1zM1048 806h1v1h-1zM1049 807h1v1h-1zM1050 808h1v2h-1zM1051 810h1v1h-1zM1052 811h1v1h-1zM1053 812h2v1h-2zM1055 811h4v1h-4zM1059 810h3v1h-3zM1062 809h1v1h-1zM1063 808h2v1h-2zM1065 807h1v1h-1zM1066 806h2v1h-2zM1068 805h1v1h-1zM1069 804h2v1h-2zM1071 805h5v1h-5zM1076 806h2v1h-2zM1078 805h2v1h-2zM1080 804h2v1h-2zM1082 803h2v1h-2zM1084 802h3v1h-3zM1087 803h2v1h-2zM1089 804h3v1h-3zM1092 805h3v1h-3zM1095 804h3v1h-3zM1098 803h2v1h-2zM1100 802h10v1h-10zM1110 803h1v1h-1zM1111 804h2v1h-2zM1113 805h1v1h-1zM1114 806h1v1h-1zM1115 807h1v1h-1zM1116 808h1v1h-1zM1117 809h4v1h-4zM1121 810h6v1h-6zM1127 809h2v1h-2zM1129 808h2v1h-2zM1131 807h2v1h-2zM1133 806h5v1h-5zM1138 805h4v1h-4zM1142 804h1v1h-1zM1143 803h1v1h-1zM1144 802h1v1h-1zM1145 801h2v1h-2zM1147 800h1v1h-1zM1148 799h1v1h-1zM1149 798h1v1h-1zM1150 797h1v1h-1zM1151 796h1v1h-1zM1152 794h1v2h-1zM1153 793h1v1h-1zM1154 792h1v1h-1zM1155 791h1v1h-1zM1156 790h1v1h-1zM1157 789h1v1h-1zM1158 788h5v1h-5zM1163 787h2v1h-2zM1165 787h1v2h-1zM1166 789h1v1h-1zM1167 790h1v2h-1zM1168 792h1v1h-1zM1169 793h1v2h-1zM1170 795h1v1h-1zM1171 796h1v2h-1zM1172 798h1v1h-1zM1173 799h3v1h-3zM1176 798h4v1h-4zM1180 797h3v1h-3zM1183 796h3v1h-3zM1186 795h2v1h-2zM1188 794h3v1h-3zM1191 795h2v1h-2zM1193 796h3v1h-3zM1196 797h13v1h-13zM1209 798h7v1h-7zM1216 799h5v1h-5zM1221 799h1v2h-1zM1222 801h1v1h-1zM1223 802h1v2h-1zM1224 804h1v1h-1zM1225 805h1v2h-1zM1226 807h1v1h-1zM1227 808h1v1h-1zM1228 809h1v2h-1zM1229 811h1v1h-1zM1230 810h2v1h-2zM1232 809h2v1h-2zM1234 808h2v1h-2zM1236 807h4v1h-4zM1240 808h4v1h-4zM1244 809h2v1h-2zM1246 810h1v2h-1zM1247 812h1v1h-1zM1248 813h1v2h-1zM1249 815h1v1h-1zM1250 816h1v2h-1zM1251 818h1v1h-1zM1252 819h1v2h-1zM1253 821h9v1h-9zM1262 820h1v1h-1zM1263 819h1v1h-1zM1264 818h2v1h-2zM1266 817h1v1h-1zM1267 816h1v1h-1zM1268 815h1v1h-1zM1269 814h1v1h-1zM1270 815h1v1h-1zM1271 816h1v1h-1zM1272 817h1v1h-1zM1273 818h1v1h-1zM1274 819h1v1h-1zM1275 820h1v1h-1zM1276 821h1v1h-1zM1277 822h2v1h-2zM1279 823h2v1h-2zM1281 824h2v1h-2zM1283 825h4v1h-4zM1287 824h1v1h-1zM1288 823h1v1h-1zM1289 822h1v1h-1zM1290 821h2v1h-2zM1292 820h1v1h-1zM1293 819h1v1h-1zM1294 820h2v1h-2zM1296 821h2v1h-2zM1298 822h2v1h-2zM1300 823h10v1h-10zM1310 822h1v1h-1zM1311 821h1v1h-1zM1312 820h1v1h-1zM1313 819h2v1h-2zM1315 818h1v1h-1zM1316 817h1v1h-1zM1317 816h1v1h-1zM1318 815h2v1h-2zM1320 814h2v1h-2zM1322 813h2v1h-2zM1324 812h5v1h-5zM1329 811h5v1h-5z" fill="#1e90ff" shape-rendering="crispEdges"/>
<g shape-rendering="crispEdges" fill="#000">
<rect x="1691" y="44" width="2" height="1"/>
<rect x="1691" y="77" width="2" height="1"/>
<rect x="1691" y="110" width="2" height="1"/>
<rect x="1691" y="143" width="2" height="1"/>
<rect x="1691" y="176" width="1" height="1"/>
<rect x="1691" y="209" width="2" height="1"/>
<rect x="1691" y="242" width="2" height="1"/>
<rect x="1691" y="275" width="2" height="1"/>
<rect x="1691" y="308" width="2" height="1"/>
<rect x="1691" y="341" width="2" height="1"/>
<rect x="1691" y="374" width="2" height="1"/>
<rect x="1691" y="407" width="2" height="1"/>
<rect x="1691" y="440" width="2" height="1"/>
<rect x="1691" y="473" width="2" height="1"/>
<rect x="1691" y="506" width="2" height="1"/>
<rect x="1691" y="539" width="2" height="1"/>
<rect x="1691" y="572" width="2" height="1"/>
<rect x="1691" y="605" width="2" height="1"/>
<rect x="1691" y="713" width="2" height="1"/>
<rect x="5" y="871" width="1" height="3"/>
<rect x="69" y="871" width="1" height="3"/>
<rect x="133" y="871" width="1" height="3"/>
<rect x="197" y="871" width="1" height="3"/>
<rect x="261" y="871" width="1" height="3"/>
<rect x="325" y="871" width="1" height="3"/>
<rect x="389" y="871" width="1" height="3"/>
<rect x="453" y="871" width="1" height="3"/>
<rect x="517" y="871" width="1" height="3"/>
<rect x="581" y="871" width="1" height="3"/>
<rect x="645" y="871" width="1" height="3"/>
<rect x="709" y="871" width="1" height="3"/>
<rect x="773" y="871" width="1" height="3"/>
<rect x="837" y="871" width="1" height="3"/>
<rect x="901" y="871" width="1" height="3"/>
<rect x="965" y="871" width="1" height="3"/>
<rect x="1029" y="871" width="1" height="3"/>
<rect x="1093" y="871" width="1" height="3"/>
<rect x="1157" y="871" width="1" height="3"/>
<rect x="1221" y="871" width="1" height="3"/>
<rect x="1285" y="871" width="1" height="3"/>
<rect x="1691" y="869" width="1" height="1"/>
</g>
<text class="t" transform="translate(1695.6 48) scale(1 1)" textLength="28.6" lengthAdjust="spacingAndGlyphs">4921.0</text>
<text class="t" transform="translate(1695.6 81) scale(1 1)" textLength="28.6" lengthAdjust="spacingAndGlyphs">4853.0</text>
<text class="t" transform="translate(1695.6 114) scale(1 1)" textLength="28.6" lengthAdjust="spacingAndGlyphs">4783.0</text>
<text class="t" transform="translate(1695.6 147) scale(1 1)" textLength="28.6" lengthAdjust="spacingAndGlyphs">4713.0</text>
<text class="t" transform="translate(1695.6 213) scale(1 1)" textLength="28.6" lengthAdjust="spacingAndGlyphs">4575.0</text>
<text class="t" transform="translate(1695.6 246) scale(1 1)" textLength="28.6" lengthAdjust="spacingAndGlyphs">4505.0</text>
<text class="t" transform="translate(1695.6 279) scale(1 1)" textLength="28.6" lengthAdjust="spacingAndGlyphs">4437.0</text>
<text class="t" transform="translate(1695.6 312) scale(1 1)" textLength="28.6" lengthAdjust="spacingAndGlyphs">4367.0</text>
<text class="t" transform="translate(1695.6 345) scale(1 1)" textLength="28.6" lengthAdjust="spacingAndGlyphs">4299.0</text>
<text class="t" transform="translate(1695.6 378) scale(1 1)" textLength="28.6" lengthAdjust="spacingAndGlyphs">4229.0</text>
<text class="t" transform="translate(1695.6 411) scale(1 1)" textLength="28.6" lengthAdjust="spacingAndGlyphs">4159.0</text>
<text class="t" transform="translate(1695.6 444) scale(1 1)" textLength="28.6" lengthAdjust="spacingAndGlyphs">4091.0</text>
<text class="t" transform="translate(1695.6 477) scale(1 1)" textLength="28.6" lengthAdjust="spacingAndGlyphs">4021.0</text>
<text class="t" transform="translate(1695.6 510) scale(1 1)" textLength="28.6" lengthAdjust="spacingAndGlyphs">3951.0</text>
<text class="t" transform="translate(1695.6 543) scale(1 1)" textLength="28.6" lengthAdjust="spacingAndGlyphs">3883.0</text>
<text class="t" transform="translate(1695.6 576) scale(1 1)" textLength="28.6" lengthAdjust="spacingAndGlyphs">3813.0</text>
<text class="t" transform="translate(1695.6 609) scale(1 1)" textLength="28.6" lengthAdjust="spacingAndGlyphs">3745.0</text>
<text class="t" transform="translate(1694.1 621) scale(1 1)" textLength="27.9" lengthAdjust="spacingAndGlyphs">216.78</text>
<text class="t" transform="translate(1694.1 717) scale(1 1)" textLength="17.8" lengthAdjust="spacingAndGlyphs">0.00</text>
<text class="t" transform="translate(1694.1 736) scale(1 1)" textLength="26.0" lengthAdjust="spacingAndGlyphs">-53.53</text>
<text class="t" transform="translate(1694.3 752) scale(1 1)" textLength="14.7" lengthAdjust="spacingAndGlyphs">100</text>
<text class="t" transform="translate(1693.9 785) scale(1 1)" textLength="9.4" lengthAdjust="spacingAndGlyphs">70</text>
<text class="t" transform="translate(1693.9 835) scale(1 1)" textLength="9.4" lengthAdjust="spacingAndGlyphs">30</text>
<text class="t" transform="translate(1693.9 867) scale(1 1)" textLength="5.6" lengthAdjust="spacingAndGlyphs">0</text>
<g shape-rendering="crispEdges">
<rect x="1692" y="172" width="36" height="11" fill="#000"/>
<rect x="1692" y="96" width="36" height="11" fill="#ff0000"/>
<rect x="1692" y="246" width="36" height="11" fill="#4169e1"/>
<rect x="1692" y="322" width="36" height="11" fill="#4169e1"/>
</g>
<text class="t w" transform="translate(1695.6 181) scale(1 1)" textLength="28.6" lengthAdjust="spacingAndGlyphs">4643.4</text>
<rect x="1692" y="179" width="36" height="11" fill="#32cd32" shape-rendering="crispEdges"/>
<text class="t w" transform="translate(1695.6 105) scale(1 1)" textLength="28.6" lengthAdjust="spacingAndGlyphs">4800.0</text>
<text class="t w" transform="translate(1695.6 188) scale(1 1)" textLength="28.6" lengthAdjust="spacingAndGlyphs">4625.0</text>
<text class="t w" transform="translate(1695.6 255) scale(1 1)" textLength="28.6" lengthAdjust="spacingAndGlyphs">4485.0</text>
<text class="t w" transform="translate(1695.6 331) scale(1 1)" textLength="28.6" lengthAdjust="spacingAndGlyphs">4325.0</text>
<text class="t" transform="translate(20.0 40) scale(1 1)" textLength="64.8" lengthAdjust="spacingAndGlyphs">CHINA300-,H4</text>
<text class="t" transform="translate(90.9 40) scale(1 1)" textLength="121.0" lengthAdjust="spacingAndGlyphs">4638.0 4644.0 4612.1 4643.4</text>
<text class="t" transform="translate(9.2 623) scale(1 1)" textLength="123.9" lengthAdjust="spacingAndGlyphs">MACD(12,26,9) -34.93 -30.97</text>
<text class="t" transform="translate(9.2 754) scale(1 1)" textLength="67.9" lengthAdjust="spacingAndGlyphs">RSI(14) 45.9170</text>
<text class="t" transform="translate(4.0 883) scale(1 1)" textLength="55.2" lengthAdjust="spacingAndGlyphs">18 May 2020</text>
<text class="t" transform="translate(68.0 883) scale(1 1)" textLength="58.1" lengthAdjust="spacingAndGlyphs">22 May 05:00</text>
<text class="t" transform="translate(132.0 883) scale(1 1)" textLength="58.1" lengthAdjust="spacingAndGlyphs">28 May 05:00</text>
<text class="t" transform="translate(196.0 883) scale(1 1)" textLength="48.1" lengthAdjust="spacingAndGlyphs">3 Jun 05:00</text>
<text class="t" transform="translate(260.0 883) scale(1 1)" textLength="48.1" lengthAdjust="spacingAndGlyphs">9 Jun 05:00</text>
<text class="t" transform="translate(324.0 883) scale(1 1)" textLength="53.1" lengthAdjust="spacingAndGlyphs">15 Jun 05:00</text>
<text class="t" transform="translate(388.0 883) scale(1 1)" textLength="53.1" lengthAdjust="spacingAndGlyphs">19 Jun 05:00</text>
<text class="t" transform="translate(452.0 883) scale(1 1)" textLength="53.1" lengthAdjust="spacingAndGlyphs">29 Jun 05:00</text>
<text class="t" transform="translate(516.0 883) scale(1 1)" textLength="45.1" lengthAdjust="spacingAndGlyphs">3 Jul 05:00</text>
<text class="t" transform="translate(580.0 883) scale(1 1)" textLength="45.1" lengthAdjust="spacingAndGlyphs">9 Jul 05:00</text>
<text class="t" transform="translate(644.0 883) scale(1 1)" textLength="50.1" lengthAdjust="spacingAndGlyphs">15 Jul 05:00</text>
<text class="t" transform="translate(708.0 883) scale(1 1)" textLength="50.1" lengthAdjust="spacingAndGlyphs">21 Jul 05:00</text>
<text class="t" transform="translate(772.0 883) scale(1 1)" textLength="50.1" lengthAdjust="spacingAndGlyphs">27 Jul 05:00</text>
<text class="t" transform="translate(836.0 883) scale(1 1)" textLength="50.1" lengthAdjust="spacingAndGlyphs">31 Jul 05:00</text>
<text class="t" transform="translate(900.0 883) scale(1 1)" textLength="51.1" lengthAdjust="spacingAndGlyphs">6 Aug 05:00</text>
<text class="t" transform="translate(964.0 883) scale(1 1)" textLength="56.1" lengthAdjust="spacingAndGlyphs">12 Aug 05:00</text>
<text class="t" transform="translate(1028.0 883) scale(1 1)" textLength="56.1" lengthAdjust="spacingAndGlyphs">18 Aug 05:00</text>
<text class="t" transform="translate(1092.0 883) scale(1 1)" textLength="56.1" lengthAdjust="spacingAndGlyphs">24 Aug 05:00</text>
<text class="t" transform="translate(1156.0 883) scale(1 1)" textLength="56.1" lengthAdjust="spacingAndGlyphs">28 Aug 05:00</text>
<text class="t" transform="translate(1220.0 883) scale(1 1)" textLength="50.1" lengthAdjust="spacingAndGlyphs">3 Sep 05:00</text>
<text class="t" transform="translate(1284.0 883) scale(1 1)" textLength="50.1" lengthAdjust="spacingAndGlyphs">9 Sep 05:00</text>
<text class="note" x="1015.4" y="302.3" style="font-size:33.8px;letter-spacing:-0.8px">多空转折点</text>
<text class="note num" x="1181.2" y="301.4" textLength="77" lengthAdjust="spacingAndGlyphs" style="font-size:33.5px">4625</text>
</svg>
</body></html>
